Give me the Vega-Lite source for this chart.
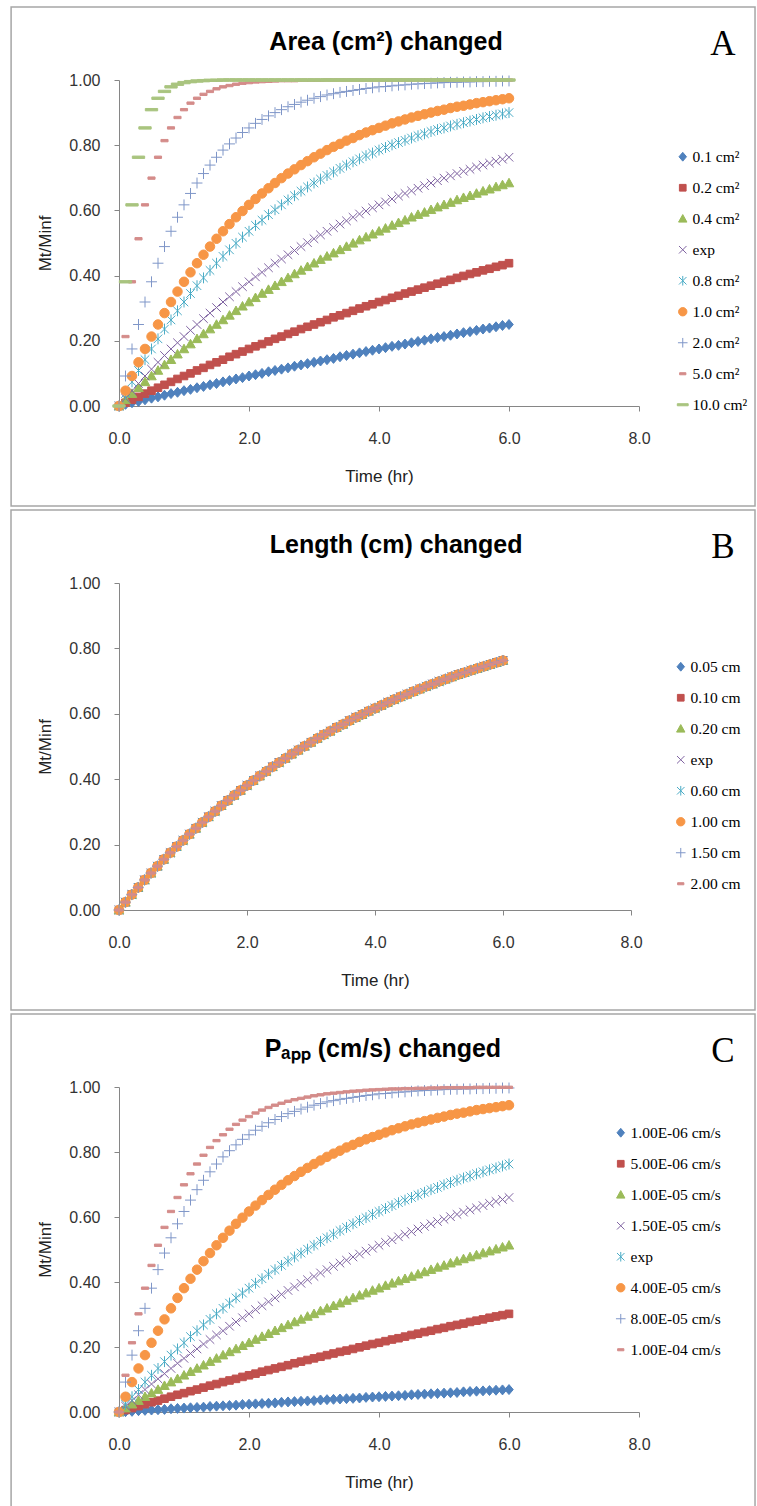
{
"$schema": "https://vega.github.io/schema/vega-lite/v6.json",
"padding": {"left": 10, "top": 6, "right": 0, "bottom": 0},
"background": "white",
"config": {
  "font": "Liberation Sans",
  "view": {"stroke": null},
  "axis": {"grid": false, "domainColor": "#868686", "tickColor": "#868686", "tickSize": 5, "labelFont": "Liberation Sans", "labelFontSize": 16, "labelColor": "#333333", "titleFont": "Liberation Sans", "titleFontSize": 17, "titleFontWeight": "normal", "titleColor": "#222222", "labelFlush": false, "labelOverlap": false},
  "legend": {"labelFont": "Liberation Serif", "labelFontSize": 15.5, "labelColor": "#000000", "symbolSize": 70, "symbolStrokeWidth": 1, "rowPadding": 14, "labelOffset": 2, "padding": 0}
},
"datasets": {
"A": [
{"s":"0.1 cm²","t":0,"y":0},{"s":"0.1 cm²","t":0.1,"y":0.005},{"s":"0.1 cm²","t":0.2,"y":0.010},{"s":"0.1 cm²","t":0.3,"y":0.014},{"s":"0.1 cm²","t":0.4,"y":0.019},{"s":"0.1 cm²","t":0.5,"y":0.024},{"s":"0.1 cm²","t":0.6,"y":0.028},{"s":"0.1 cm²","t":0.7,"y":0.033},{"s":"0.1 cm²","t":0.8,"y":0.038},{"s":"0.1 cm²","t":0.9,"y":0.042},{"s":"0.1 cm²","t":1,"y":0.047},
{"s":"0.1 cm²","t":1.1,"y":0.051},{"s":"0.1 cm²","t":1.2,"y":0.056},{"s":"0.1 cm²","t":1.3,"y":0.060},{"s":"0.1 cm²","t":1.4,"y":0.065},{"s":"0.1 cm²","t":1.5,"y":0.069},{"s":"0.1 cm²","t":1.6,"y":0.074},{"s":"0.1 cm²","t":1.7,"y":0.078},{"s":"0.1 cm²","t":1.8,"y":0.083},{"s":"0.1 cm²","t":1.9,"y":0.087},{"s":"0.1 cm²","t":2,"y":0.092},
{"s":"0.1 cm²","t":2.1,"y":0.096},{"s":"0.1 cm²","t":2.2,"y":0.100},{"s":"0.1 cm²","t":2.3,"y":0.105},{"s":"0.1 cm²","t":2.4,"y":0.109},{"s":"0.1 cm²","t":2.5,"y":0.113},{"s":"0.1 cm²","t":2.6,"y":0.117},{"s":"0.1 cm²","t":2.7,"y":0.122},{"s":"0.1 cm²","t":2.8,"y":0.126},{"s":"0.1 cm²","t":2.9,"y":0.130},{"s":"0.1 cm²","t":3,"y":0.134},
{"s":"0.1 cm²","t":3.1,"y":0.138},{"s":"0.1 cm²","t":3.2,"y":0.142},{"s":"0.1 cm²","t":3.3,"y":0.146},{"s":"0.1 cm²","t":3.4,"y":0.151},{"s":"0.1 cm²","t":3.5,"y":0.155},{"s":"0.1 cm²","t":3.6,"y":0.159},{"s":"0.1 cm²","t":3.7,"y":0.163},{"s":"0.1 cm²","t":3.8,"y":0.167},{"s":"0.1 cm²","t":3.9,"y":0.171},{"s":"0.1 cm²","t":4,"y":0.175},
{"s":"0.1 cm²","t":4.1,"y":0.179},{"s":"0.1 cm²","t":4.2,"y":0.183},{"s":"0.1 cm²","t":4.3,"y":0.186},{"s":"0.1 cm²","t":4.4,"y":0.190},{"s":"0.1 cm²","t":4.5,"y":0.194},{"s":"0.1 cm²","t":4.6,"y":0.198},{"s":"0.1 cm²","t":4.7,"y":0.202},{"s":"0.1 cm²","t":4.8,"y":0.206},{"s":"0.1 cm²","t":4.9,"y":0.210},{"s":"0.1 cm²","t":5,"y":0.213},
{"s":"0.1 cm²","t":5.1,"y":0.217},{"s":"0.1 cm²","t":5.2,"y":0.221},{"s":"0.1 cm²","t":5.3,"y":0.225},{"s":"0.1 cm²","t":5.4,"y":0.228},{"s":"0.1 cm²","t":5.5,"y":0.232},{"s":"0.1 cm²","t":5.6,"y":0.236},{"s":"0.1 cm²","t":5.7,"y":0.239},{"s":"0.1 cm²","t":5.8,"y":0.243},{"s":"0.1 cm²","t":5.9,"y":0.247},{"s":"0.1 cm²","t":6,"y":0.250},
{"s":"0.2 cm²","t":0,"y":0},{"s":"0.2 cm²","t":0.1,"y":0.010},{"s":"0.2 cm²","t":0.2,"y":0.019},{"s":"0.2 cm²","t":0.3,"y":0.028},{"s":"0.2 cm²","t":0.4,"y":0.038},{"s":"0.2 cm²","t":0.5,"y":0.047},{"s":"0.2 cm²","t":0.6,"y":0.056},{"s":"0.2 cm²","t":0.7,"y":0.065},{"s":"0.2 cm²","t":0.8,"y":0.074},{"s":"0.2 cm²","t":0.9,"y":0.083},{"s":"0.2 cm²","t":1,"y":0.092},
{"s":"0.2 cm²","t":1.1,"y":0.100},{"s":"0.2 cm²","t":1.2,"y":0.109},{"s":"0.2 cm²","t":1.3,"y":0.117},{"s":"0.2 cm²","t":1.4,"y":0.126},{"s":"0.2 cm²","t":1.5,"y":0.134},{"s":"0.2 cm²","t":1.6,"y":0.142},{"s":"0.2 cm²","t":1.7,"y":0.151},{"s":"0.2 cm²","t":1.8,"y":0.159},{"s":"0.2 cm²","t":1.9,"y":0.167},{"s":"0.2 cm²","t":2,"y":0.175},
{"s":"0.2 cm²","t":2.1,"y":0.183},{"s":"0.2 cm²","t":2.2,"y":0.190},{"s":"0.2 cm²","t":2.3,"y":0.198},{"s":"0.2 cm²","t":2.4,"y":0.206},{"s":"0.2 cm²","t":2.5,"y":0.213},{"s":"0.2 cm²","t":2.6,"y":0.221},{"s":"0.2 cm²","t":2.7,"y":0.228},{"s":"0.2 cm²","t":2.8,"y":0.236},{"s":"0.2 cm²","t":2.9,"y":0.243},{"s":"0.2 cm²","t":3,"y":0.250},
{"s":"0.2 cm²","t":3.1,"y":0.257},{"s":"0.2 cm²","t":3.2,"y":0.264},{"s":"0.2 cm²","t":3.3,"y":0.272},{"s":"0.2 cm²","t":3.4,"y":0.278},{"s":"0.2 cm²","t":3.5,"y":0.285},{"s":"0.2 cm²","t":3.6,"y":0.292},{"s":"0.2 cm²","t":3.7,"y":0.299},{"s":"0.2 cm²","t":3.8,"y":0.306},{"s":"0.2 cm²","t":3.9,"y":0.312},{"s":"0.2 cm²","t":4,"y":0.319},
{"s":"0.2 cm²","t":4.1,"y":0.325},{"s":"0.2 cm²","t":4.2,"y":0.332},{"s":"0.2 cm²","t":4.3,"y":0.338},{"s":"0.2 cm²","t":4.4,"y":0.345},{"s":"0.2 cm²","t":4.5,"y":0.351},{"s":"0.2 cm²","t":4.6,"y":0.357},{"s":"0.2 cm²","t":4.7,"y":0.363},{"s":"0.2 cm²","t":4.8,"y":0.369},{"s":"0.2 cm²","t":4.9,"y":0.375},{"s":"0.2 cm²","t":5,"y":0.381},
{"s":"0.2 cm²","t":5.1,"y":0.387},{"s":"0.2 cm²","t":5.2,"y":0.393},{"s":"0.2 cm²","t":5.3,"y":0.399},{"s":"0.2 cm²","t":5.4,"y":0.405},{"s":"0.2 cm²","t":5.5,"y":0.410},{"s":"0.2 cm²","t":5.6,"y":0.416},{"s":"0.2 cm²","t":5.7,"y":0.421},{"s":"0.2 cm²","t":5.8,"y":0.427},{"s":"0.2 cm²","t":5.9,"y":0.432},{"s":"0.2 cm²","t":6,"y":0.438},
{"s":"0.4 cm²","t":0,"y":0},{"s":"0.4 cm²","t":0.1,"y":0.019},{"s":"0.4 cm²","t":0.2,"y":0.038},{"s":"0.4 cm²","t":0.3,"y":0.056},{"s":"0.4 cm²","t":0.4,"y":0.074},{"s":"0.4 cm²","t":0.5,"y":0.092},{"s":"0.4 cm²","t":0.6,"y":0.109},{"s":"0.4 cm²","t":0.7,"y":0.126},{"s":"0.4 cm²","t":0.8,"y":0.142},{"s":"0.4 cm²","t":0.9,"y":0.159},{"s":"0.4 cm²","t":1,"y":0.175},
{"s":"0.4 cm²","t":1.1,"y":0.190},{"s":"0.4 cm²","t":1.2,"y":0.206},{"s":"0.4 cm²","t":1.3,"y":0.221},{"s":"0.4 cm²","t":1.4,"y":0.236},{"s":"0.4 cm²","t":1.5,"y":0.250},{"s":"0.4 cm²","t":1.6,"y":0.264},{"s":"0.4 cm²","t":1.7,"y":0.278},{"s":"0.4 cm²","t":1.8,"y":0.292},{"s":"0.4 cm²","t":1.9,"y":0.306},{"s":"0.4 cm²","t":2,"y":0.319},
{"s":"0.4 cm²","t":2.1,"y":0.332},{"s":"0.4 cm²","t":2.2,"y":0.345},{"s":"0.4 cm²","t":2.3,"y":0.357},{"s":"0.4 cm²","t":2.4,"y":0.369},{"s":"0.4 cm²","t":2.5,"y":0.381},{"s":"0.4 cm²","t":2.6,"y":0.393},{"s":"0.4 cm²","t":2.7,"y":0.405},{"s":"0.4 cm²","t":2.8,"y":0.416},{"s":"0.4 cm²","t":2.9,"y":0.427},{"s":"0.4 cm²","t":3,"y":0.438},
{"s":"0.4 cm²","t":3.1,"y":0.449},{"s":"0.4 cm²","t":3.2,"y":0.459},{"s":"0.4 cm²","t":3.3,"y":0.469},{"s":"0.4 cm²","t":3.4,"y":0.479},{"s":"0.4 cm²","t":3.5,"y":0.489},{"s":"0.4 cm²","t":3.6,"y":0.499},{"s":"0.4 cm²","t":3.7,"y":0.509},{"s":"0.4 cm²","t":3.8,"y":0.518},{"s":"0.4 cm²","t":3.9,"y":0.527},{"s":"0.4 cm²","t":4,"y":0.536},
{"s":"0.4 cm²","t":4.1,"y":0.545},{"s":"0.4 cm²","t":4.2,"y":0.554},{"s":"0.4 cm²","t":4.3,"y":0.562},{"s":"0.4 cm²","t":4.4,"y":0.570},{"s":"0.4 cm²","t":4.5,"y":0.579},{"s":"0.4 cm²","t":4.6,"y":0.587},{"s":"0.4 cm²","t":4.7,"y":0.594},{"s":"0.4 cm²","t":4.8,"y":0.602},{"s":"0.4 cm²","t":4.9,"y":0.610},{"s":"0.4 cm²","t":5,"y":0.617},
{"s":"0.4 cm²","t":5.1,"y":0.624},{"s":"0.4 cm²","t":5.2,"y":0.632},{"s":"0.4 cm²","t":5.3,"y":0.639},{"s":"0.4 cm²","t":5.4,"y":0.645},{"s":"0.4 cm²","t":5.5,"y":0.652},{"s":"0.4 cm²","t":5.6,"y":0.659},{"s":"0.4 cm²","t":5.7,"y":0.665},{"s":"0.4 cm²","t":5.8,"y":0.672},{"s":"0.4 cm²","t":5.9,"y":0.678},{"s":"0.4 cm²","t":6,"y":0.684},
{"s":"exp","t":0,"y":0},{"s":"exp","t":0.1,"y":0.024},{"s":"exp","t":0.2,"y":0.047},{"s":"exp","t":0.3,"y":0.069},{"s":"exp","t":0.4,"y":0.092},{"s":"exp","t":0.5,"y":0.113},{"s":"exp","t":0.6,"y":0.134},{"s":"exp","t":0.7,"y":0.155},{"s":"exp","t":0.8,"y":0.175},{"s":"exp","t":0.9,"y":0.194},{"s":"exp","t":1,"y":0.213},
{"s":"exp","t":1.1,"y":0.232},{"s":"exp","t":1.2,"y":0.250},{"s":"exp","t":1.3,"y":0.268},{"s":"exp","t":1.4,"y":0.285},{"s":"exp","t":1.5,"y":0.302},{"s":"exp","t":1.6,"y":0.319},{"s":"exp","t":1.7,"y":0.335},{"s":"exp","t":1.8,"y":0.351},{"s":"exp","t":1.9,"y":0.366},{"s":"exp","t":2,"y":0.381},
{"s":"exp","t":2.1,"y":0.396},{"s":"exp","t":2.2,"y":0.410},{"s":"exp","t":2.3,"y":0.424},{"s":"exp","t":2.4,"y":0.438},{"s":"exp","t":2.5,"y":0.451},{"s":"exp","t":2.6,"y":0.464},{"s":"exp","t":2.7,"y":0.477},{"s":"exp","t":2.8,"y":0.489},{"s":"exp","t":2.9,"y":0.501},{"s":"exp","t":3,"y":0.513},
{"s":"exp","t":3.1,"y":0.525},{"s":"exp","t":3.2,"y":0.536},{"s":"exp","t":3.3,"y":0.547},{"s":"exp","t":3.4,"y":0.558},{"s":"exp","t":3.5,"y":0.568},{"s":"exp","t":3.6,"y":0.579},{"s":"exp","t":3.7,"y":0.589},{"s":"exp","t":3.8,"y":0.598},{"s":"exp","t":3.9,"y":0.608},{"s":"exp","t":4,"y":0.617},
{"s":"exp","t":4.1,"y":0.626},{"s":"exp","t":4.2,"y":0.635},{"s":"exp","t":4.3,"y":0.644},{"s":"exp","t":4.4,"y":0.652},{"s":"exp","t":4.5,"y":0.660},{"s":"exp","t":4.6,"y":0.668},{"s":"exp","t":4.7,"y":0.676},{"s":"exp","t":4.8,"y":0.684},{"s":"exp","t":4.9,"y":0.691},{"s":"exp","t":5,"y":0.699},
{"s":"exp","t":5.1,"y":0.706},{"s":"exp","t":5.2,"y":0.713},{"s":"exp","t":5.3,"y":0.720},{"s":"exp","t":5.4,"y":0.726},{"s":"exp","t":5.5,"y":0.733},{"s":"exp","t":5.6,"y":0.739},{"s":"exp","t":5.7,"y":0.745},{"s":"exp","t":5.8,"y":0.751},{"s":"exp","t":5.9,"y":0.757},{"s":"exp","t":6,"y":0.763},
{"s":"0.8 cm²","t":0,"y":0},{"s":"0.8 cm²","t":0.1,"y":0.038},{"s":"0.8 cm²","t":0.2,"y":0.074},{"s":"0.8 cm²","t":0.3,"y":0.109},{"s":"0.8 cm²","t":0.4,"y":0.142},{"s":"0.8 cm²","t":0.5,"y":0.175},{"s":"0.8 cm²","t":0.6,"y":0.206},{"s":"0.8 cm²","t":0.7,"y":0.236},{"s":"0.8 cm²","t":0.8,"y":0.264},{"s":"0.8 cm²","t":0.9,"y":0.292},{"s":"0.8 cm²","t":1,"y":0.319},
{"s":"0.8 cm²","t":1.1,"y":0.345},{"s":"0.8 cm²","t":1.2,"y":0.369},{"s":"0.8 cm²","t":1.3,"y":0.393},{"s":"0.8 cm²","t":1.4,"y":0.416},{"s":"0.8 cm²","t":1.5,"y":0.438},{"s":"0.8 cm²","t":1.6,"y":0.459},{"s":"0.8 cm²","t":1.7,"y":0.479},{"s":"0.8 cm²","t":1.8,"y":0.499},{"s":"0.8 cm²","t":1.9,"y":0.518},{"s":"0.8 cm²","t":2,"y":0.536},
{"s":"0.8 cm²","t":2.1,"y":0.554},{"s":"0.8 cm²","t":2.2,"y":0.570},{"s":"0.8 cm²","t":2.3,"y":0.587},{"s":"0.8 cm²","t":2.4,"y":0.602},{"s":"0.8 cm²","t":2.5,"y":0.617},{"s":"0.8 cm²","t":2.6,"y":0.632},{"s":"0.8 cm²","t":2.7,"y":0.645},{"s":"0.8 cm²","t":2.8,"y":0.659},{"s":"0.8 cm²","t":2.9,"y":0.672},{"s":"0.8 cm²","t":3,"y":0.684},
{"s":"0.8 cm²","t":3.1,"y":0.696},{"s":"0.8 cm²","t":3.2,"y":0.707},{"s":"0.8 cm²","t":3.3,"y":0.718},{"s":"0.8 cm²","t":3.4,"y":0.729},{"s":"0.8 cm²","t":3.5,"y":0.739},{"s":"0.8 cm²","t":3.6,"y":0.749},{"s":"0.8 cm²","t":3.7,"y":0.758},{"s":"0.8 cm²","t":3.8,"y":0.768},{"s":"0.8 cm²","t":3.9,"y":0.776},{"s":"0.8 cm²","t":4,"y":0.785},
{"s":"0.8 cm²","t":4.1,"y":0.793},{"s":"0.8 cm²","t":4.2,"y":0.801},{"s":"0.8 cm²","t":4.3,"y":0.808},{"s":"0.8 cm²","t":4.4,"y":0.815},{"s":"0.8 cm²","t":4.5,"y":0.822},{"s":"0.8 cm²","t":4.6,"y":0.829},{"s":"0.8 cm²","t":4.7,"y":0.835},{"s":"0.8 cm²","t":4.8,"y":0.842},{"s":"0.8 cm²","t":4.9,"y":0.848},{"s":"0.8 cm²","t":5,"y":0.853},
{"s":"0.8 cm²","t":5.1,"y":0.859},{"s":"0.8 cm²","t":5.2,"y":0.864},{"s":"0.8 cm²","t":5.3,"y":0.869},{"s":"0.8 cm²","t":5.4,"y":0.874},{"s":"0.8 cm²","t":5.5,"y":0.879},{"s":"0.8 cm²","t":5.6,"y":0.884},{"s":"0.8 cm²","t":5.7,"y":0.888},{"s":"0.8 cm²","t":5.8,"y":0.892},{"s":"0.8 cm²","t":5.9,"y":0.896},{"s":"0.8 cm²","t":6,"y":0.900},
{"s":"1.0 cm²","t":0,"y":0},{"s":"1.0 cm²","t":0.1,"y":0.047},{"s":"1.0 cm²","t":0.2,"y":0.092},{"s":"1.0 cm²","t":0.3,"y":0.134},{"s":"1.0 cm²","t":0.4,"y":0.175},{"s":"1.0 cm²","t":0.5,"y":0.213},{"s":"1.0 cm²","t":0.6,"y":0.250},{"s":"1.0 cm²","t":0.7,"y":0.285},{"s":"1.0 cm²","t":0.8,"y":0.319},{"s":"1.0 cm²","t":0.9,"y":0.351},{"s":"1.0 cm²","t":1,"y":0.381},
{"s":"1.0 cm²","t":1.1,"y":0.410},{"s":"1.0 cm²","t":1.2,"y":0.438},{"s":"1.0 cm²","t":1.3,"y":0.464},{"s":"1.0 cm²","t":1.4,"y":0.489},{"s":"1.0 cm²","t":1.5,"y":0.513},{"s":"1.0 cm²","t":1.6,"y":0.536},{"s":"1.0 cm²","t":1.7,"y":0.558},{"s":"1.0 cm²","t":1.8,"y":0.579},{"s":"1.0 cm²","t":1.9,"y":0.598},{"s":"1.0 cm²","t":2,"y":0.617},
{"s":"1.0 cm²","t":2.1,"y":0.635},{"s":"1.0 cm²","t":2.2,"y":0.652},{"s":"1.0 cm²","t":2.3,"y":0.668},{"s":"1.0 cm²","t":2.4,"y":0.684},{"s":"1.0 cm²","t":2.5,"y":0.699},{"s":"1.0 cm²","t":2.6,"y":0.713},{"s":"1.0 cm²","t":2.7,"y":0.726},{"s":"1.0 cm²","t":2.8,"y":0.739},{"s":"1.0 cm²","t":2.9,"y":0.751},{"s":"1.0 cm²","t":3,"y":0.763},
{"s":"1.0 cm²","t":3.1,"y":0.774},{"s":"1.0 cm²","t":3.2,"y":0.785},{"s":"1.0 cm²","t":3.3,"y":0.795},{"s":"1.0 cm²","t":3.4,"y":0.804},{"s":"1.0 cm²","t":3.5,"y":0.814},{"s":"1.0 cm²","t":3.6,"y":0.822},{"s":"1.0 cm²","t":3.7,"y":0.831},{"s":"1.0 cm²","t":3.8,"y":0.839},{"s":"1.0 cm²","t":3.9,"y":0.846},{"s":"1.0 cm²","t":4,"y":0.853},
{"s":"1.0 cm²","t":4.1,"y":0.860},{"s":"1.0 cm²","t":4.2,"y":0.867},{"s":"1.0 cm²","t":4.3,"y":0.873},{"s":"1.0 cm²","t":4.4,"y":0.879},{"s":"1.0 cm²","t":4.5,"y":0.885},{"s":"1.0 cm²","t":4.6,"y":0.890},{"s":"1.0 cm²","t":4.7,"y":0.895},{"s":"1.0 cm²","t":4.8,"y":0.900},{"s":"1.0 cm²","t":4.9,"y":0.905},{"s":"1.0 cm²","t":5,"y":0.909},
{"s":"1.0 cm²","t":5.1,"y":0.914},{"s":"1.0 cm²","t":5.2,"y":0.918},{"s":"1.0 cm²","t":5.3,"y":0.921},{"s":"1.0 cm²","t":5.4,"y":0.925},{"s":"1.0 cm²","t":5.5,"y":0.929},{"s":"1.0 cm²","t":5.6,"y":0.932},{"s":"1.0 cm²","t":5.7,"y":0.935},{"s":"1.0 cm²","t":5.8,"y":0.938},{"s":"1.0 cm²","t":5.9,"y":0.941},{"s":"1.0 cm²","t":6,"y":0.944},
{"s":"2.0 cm²","t":0,"y":0},{"s":"2.0 cm²","t":0.1,"y":0.092},{"s":"2.0 cm²","t":0.2,"y":0.175},{"s":"2.0 cm²","t":0.3,"y":0.250},{"s":"2.0 cm²","t":0.4,"y":0.319},{"s":"2.0 cm²","t":0.5,"y":0.381},{"s":"2.0 cm²","t":0.6,"y":0.438},{"s":"2.0 cm²","t":0.7,"y":0.489},{"s":"2.0 cm²","t":0.8,"y":0.536},{"s":"2.0 cm²","t":0.9,"y":0.579},{"s":"2.0 cm²","t":1,"y":0.617},
{"s":"2.0 cm²","t":1.1,"y":0.652},{"s":"2.0 cm²","t":1.2,"y":0.684},{"s":"2.0 cm²","t":1.3,"y":0.713},{"s":"2.0 cm²","t":1.4,"y":0.739},{"s":"2.0 cm²","t":1.5,"y":0.763},{"s":"2.0 cm²","t":1.6,"y":0.785},{"s":"2.0 cm²","t":1.7,"y":0.804},{"s":"2.0 cm²","t":1.8,"y":0.822},{"s":"2.0 cm²","t":1.9,"y":0.839},{"s":"2.0 cm²","t":2,"y":0.853},
{"s":"2.0 cm²","t":2.1,"y":0.867},{"s":"2.0 cm²","t":2.2,"y":0.879},{"s":"2.0 cm²","t":2.3,"y":0.890},{"s":"2.0 cm²","t":2.4,"y":0.900},{"s":"2.0 cm²","t":2.5,"y":0.909},{"s":"2.0 cm²","t":2.6,"y":0.918},{"s":"2.0 cm²","t":2.7,"y":0.925},{"s":"2.0 cm²","t":2.8,"y":0.932},{"s":"2.0 cm²","t":2.9,"y":0.938},{"s":"2.0 cm²","t":3,"y":0.944},
{"s":"2.0 cm²","t":3.1,"y":0.949},{"s":"2.0 cm²","t":3.2,"y":0.954},{"s":"2.0 cm²","t":3.3,"y":0.958},{"s":"2.0 cm²","t":3.4,"y":0.962},{"s":"2.0 cm²","t":3.5,"y":0.965},{"s":"2.0 cm²","t":3.6,"y":0.968},{"s":"2.0 cm²","t":3.7,"y":0.971},{"s":"2.0 cm²","t":3.8,"y":0.974},{"s":"2.0 cm²","t":3.9,"y":0.976},{"s":"2.0 cm²","t":4,"y":0.979},
{"s":"2.0 cm²","t":4.1,"y":0.980},{"s":"2.0 cm²","t":4.2,"y":0.982},{"s":"2.0 cm²","t":4.3,"y":0.984},{"s":"2.0 cm²","t":4.4,"y":0.985},{"s":"2.0 cm²","t":4.5,"y":0.987},{"s":"2.0 cm²","t":4.6,"y":0.988},{"s":"2.0 cm²","t":4.7,"y":0.989},{"s":"2.0 cm²","t":4.8,"y":0.990},{"s":"2.0 cm²","t":4.9,"y":0.991},{"s":"2.0 cm²","t":5,"y":0.992},
{"s":"2.0 cm²","t":5.1,"y":0.993},{"s":"2.0 cm²","t":5.2,"y":0.993},{"s":"2.0 cm²","t":5.3,"y":0.994},{"s":"2.0 cm²","t":5.4,"y":0.994},{"s":"2.0 cm²","t":5.5,"y":0.995},{"s":"2.0 cm²","t":5.6,"y":0.995},{"s":"2.0 cm²","t":5.7,"y":0.996},{"s":"2.0 cm²","t":5.8,"y":0.996},{"s":"2.0 cm²","t":5.9,"y":0.997},{"s":"2.0 cm²","t":6,"y":0.997},
{"s":"5.0 cm²","t":0,"y":0},{"s":"5.0 cm²","t":0.1,"y":0.213},{"s":"5.0 cm²","t":0.2,"y":0.381},{"s":"5.0 cm²","t":0.3,"y":0.513},{"s":"5.0 cm²","t":0.4,"y":0.617},{"s":"5.0 cm²","t":0.5,"y":0.699},{"s":"5.0 cm²","t":0.6,"y":0.763},{"s":"5.0 cm²","t":0.7,"y":0.814},{"s":"5.0 cm²","t":0.8,"y":0.853},{"s":"5.0 cm²","t":0.9,"y":0.885},{"s":"5.0 cm²","t":1,"y":0.909},
{"s":"5.0 cm²","t":1.1,"y":0.929},{"s":"5.0 cm²","t":1.2,"y":0.944},{"s":"5.0 cm²","t":1.3,"y":0.956},{"s":"5.0 cm²","t":1.4,"y":0.965},{"s":"5.0 cm²","t":1.5,"y":0.973},{"s":"5.0 cm²","t":1.6,"y":0.979},{"s":"5.0 cm²","t":1.7,"y":0.983},{"s":"5.0 cm²","t":1.8,"y":0.987},{"s":"5.0 cm²","t":1.9,"y":0.990},{"s":"5.0 cm²","t":2,"y":0.992},
{"s":"5.0 cm²","t":2.1,"y":0.994},{"s":"5.0 cm²","t":2.2,"y":0.995},{"s":"5.0 cm²","t":2.3,"y":0.996},{"s":"5.0 cm²","t":2.4,"y":0.997},{"s":"5.0 cm²","t":2.5,"y":0.998},{"s":"5.0 cm²","t":2.6,"y":0.998},{"s":"5.0 cm²","t":2.7,"y":0.998},{"s":"5.0 cm²","t":2.8,"y":0.999},{"s":"5.0 cm²","t":2.9,"y":0.999},{"s":"5.0 cm²","t":3,"y":0.999},
{"s":"5.0 cm²","t":3.1,"y":0.999},{"s":"5.0 cm²","t":3.2,"y":1},{"s":"5.0 cm²","t":3.3,"y":1},{"s":"5.0 cm²","t":3.4,"y":1},{"s":"5.0 cm²","t":3.5,"y":1},{"s":"5.0 cm²","t":3.6,"y":1},{"s":"5.0 cm²","t":3.7,"y":1},{"s":"5.0 cm²","t":3.8,"y":1},{"s":"5.0 cm²","t":3.9,"y":1},{"s":"5.0 cm²","t":4,"y":1},
{"s":"5.0 cm²","t":4.1,"y":1},{"s":"5.0 cm²","t":4.2,"y":1},{"s":"5.0 cm²","t":4.3,"y":1},{"s":"5.0 cm²","t":4.4,"y":1},{"s":"5.0 cm²","t":4.5,"y":1},{"s":"5.0 cm²","t":4.6,"y":1},{"s":"5.0 cm²","t":4.7,"y":1},{"s":"5.0 cm²","t":4.8,"y":1},{"s":"5.0 cm²","t":4.9,"y":1},{"s":"5.0 cm²","t":5,"y":1},
{"s":"5.0 cm²","t":5.1,"y":1},{"s":"5.0 cm²","t":5.2,"y":1},{"s":"5.0 cm²","t":5.3,"y":1},{"s":"5.0 cm²","t":5.4,"y":1},{"s":"5.0 cm²","t":5.5,"y":1},{"s":"5.0 cm²","t":5.6,"y":1},{"s":"5.0 cm²","t":5.7,"y":1},{"s":"5.0 cm²","t":5.8,"y":1},{"s":"5.0 cm²","t":5.9,"y":1},{"s":"5.0 cm²","t":6,"y":1},
{"s":"10.0 cm²","t":0,"y":0},{"s":"10.0 cm²","t":0.1,"y":0.381},{"s":"10.0 cm²","t":0.2,"y":0.617},{"s":"10.0 cm²","t":0.3,"y":0.763},{"s":"10.0 cm²","t":0.4,"y":0.853},{"s":"10.0 cm²","t":0.5,"y":0.909},{"s":"10.0 cm²","t":0.6,"y":0.944},{"s":"10.0 cm²","t":0.7,"y":0.965},{"s":"10.0 cm²","t":0.8,"y":0.979},{"s":"10.0 cm²","t":0.9,"y":0.987},{"s":"10.0 cm²","t":1,"y":0.992},
{"s":"10.0 cm²","t":1.1,"y":0.995},{"s":"10.0 cm²","t":1.2,"y":0.997},{"s":"10.0 cm²","t":1.3,"y":0.998},{"s":"10.0 cm²","t":1.4,"y":0.999},{"s":"10.0 cm²","t":1.5,"y":0.999},{"s":"10.0 cm²","t":1.6,"y":1},{"s":"10.0 cm²","t":1.7,"y":1},{"s":"10.0 cm²","t":1.8,"y":1},{"s":"10.0 cm²","t":1.9,"y":1},{"s":"10.0 cm²","t":2,"y":1},
{"s":"10.0 cm²","t":2.1,"y":1},{"s":"10.0 cm²","t":2.2,"y":1},{"s":"10.0 cm²","t":2.3,"y":1},{"s":"10.0 cm²","t":2.4,"y":1},{"s":"10.0 cm²","t":2.5,"y":1},{"s":"10.0 cm²","t":2.6,"y":1},{"s":"10.0 cm²","t":2.7,"y":1},{"s":"10.0 cm²","t":2.8,"y":1},{"s":"10.0 cm²","t":2.9,"y":1},{"s":"10.0 cm²","t":3,"y":1},
{"s":"10.0 cm²","t":3.1,"y":1},{"s":"10.0 cm²","t":3.2,"y":1},{"s":"10.0 cm²","t":3.3,"y":1},{"s":"10.0 cm²","t":3.4,"y":1},{"s":"10.0 cm²","t":3.5,"y":1},{"s":"10.0 cm²","t":3.6,"y":1},{"s":"10.0 cm²","t":3.7,"y":1},{"s":"10.0 cm²","t":3.8,"y":1},{"s":"10.0 cm²","t":3.9,"y":1},{"s":"10.0 cm²","t":4,"y":1},
{"s":"10.0 cm²","t":4.1,"y":1},{"s":"10.0 cm²","t":4.2,"y":1},{"s":"10.0 cm²","t":4.3,"y":1},{"s":"10.0 cm²","t":4.4,"y":1},{"s":"10.0 cm²","t":4.5,"y":1},{"s":"10.0 cm²","t":4.6,"y":1},{"s":"10.0 cm²","t":4.7,"y":1},{"s":"10.0 cm²","t":4.8,"y":1},{"s":"10.0 cm²","t":4.9,"y":1},{"s":"10.0 cm²","t":5,"y":1},
{"s":"10.0 cm²","t":5.1,"y":1},{"s":"10.0 cm²","t":5.2,"y":1},{"s":"10.0 cm²","t":5.3,"y":1},{"s":"10.0 cm²","t":5.4,"y":1},{"s":"10.0 cm²","t":5.5,"y":1},{"s":"10.0 cm²","t":5.6,"y":1},{"s":"10.0 cm²","t":5.7,"y":1},{"s":"10.0 cm²","t":5.8,"y":1},{"s":"10.0 cm²","t":5.9,"y":1},{"s":"10.0 cm²","t":6,"y":1}
],
"B": [
{"s":"0.05 cm","t":0,"y":0},{"s":"0.05 cm","t":0.1,"y":0.024},{"s":"0.05 cm","t":0.2,"y":0.047},{"s":"0.05 cm","t":0.3,"y":0.069},{"s":"0.05 cm","t":0.4,"y":0.092},{"s":"0.05 cm","t":0.5,"y":0.113},{"s":"0.05 cm","t":0.6,"y":0.134},{"s":"0.05 cm","t":0.7,"y":0.155},{"s":"0.05 cm","t":0.8,"y":0.175},{"s":"0.05 cm","t":0.9,"y":0.194},{"s":"0.05 cm","t":1,"y":0.213},
{"s":"0.05 cm","t":1.1,"y":0.232},{"s":"0.05 cm","t":1.2,"y":0.250},{"s":"0.05 cm","t":1.3,"y":0.268},{"s":"0.05 cm","t":1.4,"y":0.285},{"s":"0.05 cm","t":1.5,"y":0.302},{"s":"0.05 cm","t":1.6,"y":0.319},{"s":"0.05 cm","t":1.7,"y":0.335},{"s":"0.05 cm","t":1.8,"y":0.351},{"s":"0.05 cm","t":1.9,"y":0.366},{"s":"0.05 cm","t":2,"y":0.381},
{"s":"0.05 cm","t":2.1,"y":0.396},{"s":"0.05 cm","t":2.2,"y":0.410},{"s":"0.05 cm","t":2.3,"y":0.424},{"s":"0.05 cm","t":2.4,"y":0.438},{"s":"0.05 cm","t":2.5,"y":0.451},{"s":"0.05 cm","t":2.6,"y":0.464},{"s":"0.05 cm","t":2.7,"y":0.477},{"s":"0.05 cm","t":2.8,"y":0.489},{"s":"0.05 cm","t":2.9,"y":0.501},{"s":"0.05 cm","t":3,"y":0.513},
{"s":"0.05 cm","t":3.1,"y":0.525},{"s":"0.05 cm","t":3.2,"y":0.536},{"s":"0.05 cm","t":3.3,"y":0.547},{"s":"0.05 cm","t":3.4,"y":0.558},{"s":"0.05 cm","t":3.5,"y":0.568},{"s":"0.05 cm","t":3.6,"y":0.579},{"s":"0.05 cm","t":3.7,"y":0.589},{"s":"0.05 cm","t":3.8,"y":0.598},{"s":"0.05 cm","t":3.9,"y":0.608},{"s":"0.05 cm","t":4,"y":0.617},
{"s":"0.05 cm","t":4.1,"y":0.626},{"s":"0.05 cm","t":4.2,"y":0.635},{"s":"0.05 cm","t":4.3,"y":0.644},{"s":"0.05 cm","t":4.4,"y":0.652},{"s":"0.05 cm","t":4.5,"y":0.660},{"s":"0.05 cm","t":4.6,"y":0.668},{"s":"0.05 cm","t":4.7,"y":0.676},{"s":"0.05 cm","t":4.8,"y":0.684},{"s":"0.05 cm","t":4.9,"y":0.691},{"s":"0.05 cm","t":5,"y":0.699},
{"s":"0.05 cm","t":5.1,"y":0.706},{"s":"0.05 cm","t":5.2,"y":0.713},{"s":"0.05 cm","t":5.3,"y":0.720},{"s":"0.05 cm","t":5.4,"y":0.726},{"s":"0.05 cm","t":5.5,"y":0.733},{"s":"0.05 cm","t":5.6,"y":0.739},{"s":"0.05 cm","t":5.7,"y":0.745},{"s":"0.05 cm","t":5.8,"y":0.751},{"s":"0.05 cm","t":5.9,"y":0.757},{"s":"0.05 cm","t":6,"y":0.763},
{"s":"0.10 cm","t":0,"y":0},{"s":"0.10 cm","t":0.1,"y":0.024},{"s":"0.10 cm","t":0.2,"y":0.047},{"s":"0.10 cm","t":0.3,"y":0.069},{"s":"0.10 cm","t":0.4,"y":0.092},{"s":"0.10 cm","t":0.5,"y":0.113},{"s":"0.10 cm","t":0.6,"y":0.134},{"s":"0.10 cm","t":0.7,"y":0.155},{"s":"0.10 cm","t":0.8,"y":0.175},{"s":"0.10 cm","t":0.9,"y":0.194},{"s":"0.10 cm","t":1,"y":0.213},
{"s":"0.10 cm","t":1.1,"y":0.232},{"s":"0.10 cm","t":1.2,"y":0.250},{"s":"0.10 cm","t":1.3,"y":0.268},{"s":"0.10 cm","t":1.4,"y":0.285},{"s":"0.10 cm","t":1.5,"y":0.302},{"s":"0.10 cm","t":1.6,"y":0.319},{"s":"0.10 cm","t":1.7,"y":0.335},{"s":"0.10 cm","t":1.8,"y":0.351},{"s":"0.10 cm","t":1.9,"y":0.366},{"s":"0.10 cm","t":2,"y":0.381},
{"s":"0.10 cm","t":2.1,"y":0.396},{"s":"0.10 cm","t":2.2,"y":0.410},{"s":"0.10 cm","t":2.3,"y":0.424},{"s":"0.10 cm","t":2.4,"y":0.438},{"s":"0.10 cm","t":2.5,"y":0.451},{"s":"0.10 cm","t":2.6,"y":0.464},{"s":"0.10 cm","t":2.7,"y":0.477},{"s":"0.10 cm","t":2.8,"y":0.489},{"s":"0.10 cm","t":2.9,"y":0.501},{"s":"0.10 cm","t":3,"y":0.513},
{"s":"0.10 cm","t":3.1,"y":0.525},{"s":"0.10 cm","t":3.2,"y":0.536},{"s":"0.10 cm","t":3.3,"y":0.547},{"s":"0.10 cm","t":3.4,"y":0.558},{"s":"0.10 cm","t":3.5,"y":0.568},{"s":"0.10 cm","t":3.6,"y":0.579},{"s":"0.10 cm","t":3.7,"y":0.589},{"s":"0.10 cm","t":3.8,"y":0.598},{"s":"0.10 cm","t":3.9,"y":0.608},{"s":"0.10 cm","t":4,"y":0.617},
{"s":"0.10 cm","t":4.1,"y":0.626},{"s":"0.10 cm","t":4.2,"y":0.635},{"s":"0.10 cm","t":4.3,"y":0.644},{"s":"0.10 cm","t":4.4,"y":0.652},{"s":"0.10 cm","t":4.5,"y":0.660},{"s":"0.10 cm","t":4.6,"y":0.668},{"s":"0.10 cm","t":4.7,"y":0.676},{"s":"0.10 cm","t":4.8,"y":0.684},{"s":"0.10 cm","t":4.9,"y":0.691},{"s":"0.10 cm","t":5,"y":0.699},
{"s":"0.10 cm","t":5.1,"y":0.706},{"s":"0.10 cm","t":5.2,"y":0.713},{"s":"0.10 cm","t":5.3,"y":0.720},{"s":"0.10 cm","t":5.4,"y":0.726},{"s":"0.10 cm","t":5.5,"y":0.733},{"s":"0.10 cm","t":5.6,"y":0.739},{"s":"0.10 cm","t":5.7,"y":0.745},{"s":"0.10 cm","t":5.8,"y":0.751},{"s":"0.10 cm","t":5.9,"y":0.757},{"s":"0.10 cm","t":6,"y":0.763},
{"s":"0.20 cm","t":0,"y":0},{"s":"0.20 cm","t":0.1,"y":0.024},{"s":"0.20 cm","t":0.2,"y":0.047},{"s":"0.20 cm","t":0.3,"y":0.069},{"s":"0.20 cm","t":0.4,"y":0.092},{"s":"0.20 cm","t":0.5,"y":0.113},{"s":"0.20 cm","t":0.6,"y":0.134},{"s":"0.20 cm","t":0.7,"y":0.155},{"s":"0.20 cm","t":0.8,"y":0.175},{"s":"0.20 cm","t":0.9,"y":0.194},{"s":"0.20 cm","t":1,"y":0.213},
{"s":"0.20 cm","t":1.1,"y":0.232},{"s":"0.20 cm","t":1.2,"y":0.250},{"s":"0.20 cm","t":1.3,"y":0.268},{"s":"0.20 cm","t":1.4,"y":0.285},{"s":"0.20 cm","t":1.5,"y":0.302},{"s":"0.20 cm","t":1.6,"y":0.319},{"s":"0.20 cm","t":1.7,"y":0.335},{"s":"0.20 cm","t":1.8,"y":0.351},{"s":"0.20 cm","t":1.9,"y":0.366},{"s":"0.20 cm","t":2,"y":0.381},
{"s":"0.20 cm","t":2.1,"y":0.396},{"s":"0.20 cm","t":2.2,"y":0.410},{"s":"0.20 cm","t":2.3,"y":0.424},{"s":"0.20 cm","t":2.4,"y":0.438},{"s":"0.20 cm","t":2.5,"y":0.451},{"s":"0.20 cm","t":2.6,"y":0.464},{"s":"0.20 cm","t":2.7,"y":0.477},{"s":"0.20 cm","t":2.8,"y":0.489},{"s":"0.20 cm","t":2.9,"y":0.501},{"s":"0.20 cm","t":3,"y":0.513},
{"s":"0.20 cm","t":3.1,"y":0.525},{"s":"0.20 cm","t":3.2,"y":0.536},{"s":"0.20 cm","t":3.3,"y":0.547},{"s":"0.20 cm","t":3.4,"y":0.558},{"s":"0.20 cm","t":3.5,"y":0.568},{"s":"0.20 cm","t":3.6,"y":0.579},{"s":"0.20 cm","t":3.7,"y":0.589},{"s":"0.20 cm","t":3.8,"y":0.598},{"s":"0.20 cm","t":3.9,"y":0.608},{"s":"0.20 cm","t":4,"y":0.617},
{"s":"0.20 cm","t":4.1,"y":0.626},{"s":"0.20 cm","t":4.2,"y":0.635},{"s":"0.20 cm","t":4.3,"y":0.644},{"s":"0.20 cm","t":4.4,"y":0.652},{"s":"0.20 cm","t":4.5,"y":0.660},{"s":"0.20 cm","t":4.6,"y":0.668},{"s":"0.20 cm","t":4.7,"y":0.676},{"s":"0.20 cm","t":4.8,"y":0.684},{"s":"0.20 cm","t":4.9,"y":0.691},{"s":"0.20 cm","t":5,"y":0.699},
{"s":"0.20 cm","t":5.1,"y":0.706},{"s":"0.20 cm","t":5.2,"y":0.713},{"s":"0.20 cm","t":5.3,"y":0.720},{"s":"0.20 cm","t":5.4,"y":0.726},{"s":"0.20 cm","t":5.5,"y":0.733},{"s":"0.20 cm","t":5.6,"y":0.739},{"s":"0.20 cm","t":5.7,"y":0.745},{"s":"0.20 cm","t":5.8,"y":0.751},{"s":"0.20 cm","t":5.9,"y":0.757},{"s":"0.20 cm","t":6,"y":0.763},
{"s":"exp","t":0,"y":0},{"s":"exp","t":0.1,"y":0.024},{"s":"exp","t":0.2,"y":0.047},{"s":"exp","t":0.3,"y":0.069},{"s":"exp","t":0.4,"y":0.092},{"s":"exp","t":0.5,"y":0.113},{"s":"exp","t":0.6,"y":0.134},{"s":"exp","t":0.7,"y":0.155},{"s":"exp","t":0.8,"y":0.175},{"s":"exp","t":0.9,"y":0.194},{"s":"exp","t":1,"y":0.213},
{"s":"exp","t":1.1,"y":0.232},{"s":"exp","t":1.2,"y":0.250},{"s":"exp","t":1.3,"y":0.268},{"s":"exp","t":1.4,"y":0.285},{"s":"exp","t":1.5,"y":0.302},{"s":"exp","t":1.6,"y":0.319},{"s":"exp","t":1.7,"y":0.335},{"s":"exp","t":1.8,"y":0.351},{"s":"exp","t":1.9,"y":0.366},{"s":"exp","t":2,"y":0.381},
{"s":"exp","t":2.1,"y":0.396},{"s":"exp","t":2.2,"y":0.410},{"s":"exp","t":2.3,"y":0.424},{"s":"exp","t":2.4,"y":0.438},{"s":"exp","t":2.5,"y":0.451},{"s":"exp","t":2.6,"y":0.464},{"s":"exp","t":2.7,"y":0.477},{"s":"exp","t":2.8,"y":0.489},{"s":"exp","t":2.9,"y":0.501},{"s":"exp","t":3,"y":0.513},
{"s":"exp","t":3.1,"y":0.525},{"s":"exp","t":3.2,"y":0.536},{"s":"exp","t":3.3,"y":0.547},{"s":"exp","t":3.4,"y":0.558},{"s":"exp","t":3.5,"y":0.568},{"s":"exp","t":3.6,"y":0.579},{"s":"exp","t":3.7,"y":0.589},{"s":"exp","t":3.8,"y":0.598},{"s":"exp","t":3.9,"y":0.608},{"s":"exp","t":4,"y":0.617},
{"s":"exp","t":4.1,"y":0.626},{"s":"exp","t":4.2,"y":0.635},{"s":"exp","t":4.3,"y":0.644},{"s":"exp","t":4.4,"y":0.652},{"s":"exp","t":4.5,"y":0.660},{"s":"exp","t":4.6,"y":0.668},{"s":"exp","t":4.7,"y":0.676},{"s":"exp","t":4.8,"y":0.684},{"s":"exp","t":4.9,"y":0.691},{"s":"exp","t":5,"y":0.699},
{"s":"exp","t":5.1,"y":0.706},{"s":"exp","t":5.2,"y":0.713},{"s":"exp","t":5.3,"y":0.720},{"s":"exp","t":5.4,"y":0.726},{"s":"exp","t":5.5,"y":0.733},{"s":"exp","t":5.6,"y":0.739},{"s":"exp","t":5.7,"y":0.745},{"s":"exp","t":5.8,"y":0.751},{"s":"exp","t":5.9,"y":0.757},{"s":"exp","t":6,"y":0.763},
{"s":"0.60 cm","t":0,"y":0},{"s":"0.60 cm","t":0.1,"y":0.024},{"s":"0.60 cm","t":0.2,"y":0.047},{"s":"0.60 cm","t":0.3,"y":0.069},{"s":"0.60 cm","t":0.4,"y":0.092},{"s":"0.60 cm","t":0.5,"y":0.113},{"s":"0.60 cm","t":0.6,"y":0.134},{"s":"0.60 cm","t":0.7,"y":0.155},{"s":"0.60 cm","t":0.8,"y":0.175},{"s":"0.60 cm","t":0.9,"y":0.194},{"s":"0.60 cm","t":1,"y":0.213},
{"s":"0.60 cm","t":1.1,"y":0.232},{"s":"0.60 cm","t":1.2,"y":0.250},{"s":"0.60 cm","t":1.3,"y":0.268},{"s":"0.60 cm","t":1.4,"y":0.285},{"s":"0.60 cm","t":1.5,"y":0.302},{"s":"0.60 cm","t":1.6,"y":0.319},{"s":"0.60 cm","t":1.7,"y":0.335},{"s":"0.60 cm","t":1.8,"y":0.351},{"s":"0.60 cm","t":1.9,"y":0.366},{"s":"0.60 cm","t":2,"y":0.381},
{"s":"0.60 cm","t":2.1,"y":0.396},{"s":"0.60 cm","t":2.2,"y":0.410},{"s":"0.60 cm","t":2.3,"y":0.424},{"s":"0.60 cm","t":2.4,"y":0.438},{"s":"0.60 cm","t":2.5,"y":0.451},{"s":"0.60 cm","t":2.6,"y":0.464},{"s":"0.60 cm","t":2.7,"y":0.477},{"s":"0.60 cm","t":2.8,"y":0.489},{"s":"0.60 cm","t":2.9,"y":0.501},{"s":"0.60 cm","t":3,"y":0.513},
{"s":"0.60 cm","t":3.1,"y":0.525},{"s":"0.60 cm","t":3.2,"y":0.536},{"s":"0.60 cm","t":3.3,"y":0.547},{"s":"0.60 cm","t":3.4,"y":0.558},{"s":"0.60 cm","t":3.5,"y":0.568},{"s":"0.60 cm","t":3.6,"y":0.579},{"s":"0.60 cm","t":3.7,"y":0.589},{"s":"0.60 cm","t":3.8,"y":0.598},{"s":"0.60 cm","t":3.9,"y":0.608},{"s":"0.60 cm","t":4,"y":0.617},
{"s":"0.60 cm","t":4.1,"y":0.626},{"s":"0.60 cm","t":4.2,"y":0.635},{"s":"0.60 cm","t":4.3,"y":0.644},{"s":"0.60 cm","t":4.4,"y":0.652},{"s":"0.60 cm","t":4.5,"y":0.660},{"s":"0.60 cm","t":4.6,"y":0.668},{"s":"0.60 cm","t":4.7,"y":0.676},{"s":"0.60 cm","t":4.8,"y":0.684},{"s":"0.60 cm","t":4.9,"y":0.691},{"s":"0.60 cm","t":5,"y":0.699},
{"s":"0.60 cm","t":5.1,"y":0.706},{"s":"0.60 cm","t":5.2,"y":0.713},{"s":"0.60 cm","t":5.3,"y":0.720},{"s":"0.60 cm","t":5.4,"y":0.726},{"s":"0.60 cm","t":5.5,"y":0.733},{"s":"0.60 cm","t":5.6,"y":0.739},{"s":"0.60 cm","t":5.7,"y":0.745},{"s":"0.60 cm","t":5.8,"y":0.751},{"s":"0.60 cm","t":5.9,"y":0.757},{"s":"0.60 cm","t":6,"y":0.763},
{"s":"1.00 cm","t":0,"y":0},{"s":"1.00 cm","t":0.1,"y":0.024},{"s":"1.00 cm","t":0.2,"y":0.047},{"s":"1.00 cm","t":0.3,"y":0.069},{"s":"1.00 cm","t":0.4,"y":0.092},{"s":"1.00 cm","t":0.5,"y":0.113},{"s":"1.00 cm","t":0.6,"y":0.134},{"s":"1.00 cm","t":0.7,"y":0.155},{"s":"1.00 cm","t":0.8,"y":0.175},{"s":"1.00 cm","t":0.9,"y":0.194},{"s":"1.00 cm","t":1,"y":0.213},
{"s":"1.00 cm","t":1.1,"y":0.232},{"s":"1.00 cm","t":1.2,"y":0.250},{"s":"1.00 cm","t":1.3,"y":0.268},{"s":"1.00 cm","t":1.4,"y":0.285},{"s":"1.00 cm","t":1.5,"y":0.302},{"s":"1.00 cm","t":1.6,"y":0.319},{"s":"1.00 cm","t":1.7,"y":0.335},{"s":"1.00 cm","t":1.8,"y":0.351},{"s":"1.00 cm","t":1.9,"y":0.366},{"s":"1.00 cm","t":2,"y":0.381},
{"s":"1.00 cm","t":2.1,"y":0.396},{"s":"1.00 cm","t":2.2,"y":0.410},{"s":"1.00 cm","t":2.3,"y":0.424},{"s":"1.00 cm","t":2.4,"y":0.438},{"s":"1.00 cm","t":2.5,"y":0.451},{"s":"1.00 cm","t":2.6,"y":0.464},{"s":"1.00 cm","t":2.7,"y":0.477},{"s":"1.00 cm","t":2.8,"y":0.489},{"s":"1.00 cm","t":2.9,"y":0.501},{"s":"1.00 cm","t":3,"y":0.513},
{"s":"1.00 cm","t":3.1,"y":0.525},{"s":"1.00 cm","t":3.2,"y":0.536},{"s":"1.00 cm","t":3.3,"y":0.547},{"s":"1.00 cm","t":3.4,"y":0.558},{"s":"1.00 cm","t":3.5,"y":0.568},{"s":"1.00 cm","t":3.6,"y":0.579},{"s":"1.00 cm","t":3.7,"y":0.589},{"s":"1.00 cm","t":3.8,"y":0.598},{"s":"1.00 cm","t":3.9,"y":0.608},{"s":"1.00 cm","t":4,"y":0.617},
{"s":"1.00 cm","t":4.1,"y":0.626},{"s":"1.00 cm","t":4.2,"y":0.635},{"s":"1.00 cm","t":4.3,"y":0.644},{"s":"1.00 cm","t":4.4,"y":0.652},{"s":"1.00 cm","t":4.5,"y":0.660},{"s":"1.00 cm","t":4.6,"y":0.668},{"s":"1.00 cm","t":4.7,"y":0.676},{"s":"1.00 cm","t":4.8,"y":0.684},{"s":"1.00 cm","t":4.9,"y":0.691},{"s":"1.00 cm","t":5,"y":0.699},
{"s":"1.00 cm","t":5.1,"y":0.706},{"s":"1.00 cm","t":5.2,"y":0.713},{"s":"1.00 cm","t":5.3,"y":0.720},{"s":"1.00 cm","t":5.4,"y":0.726},{"s":"1.00 cm","t":5.5,"y":0.733},{"s":"1.00 cm","t":5.6,"y":0.739},{"s":"1.00 cm","t":5.7,"y":0.745},{"s":"1.00 cm","t":5.8,"y":0.751},{"s":"1.00 cm","t":5.9,"y":0.757},{"s":"1.00 cm","t":6,"y":0.763},
{"s":"1.50 cm","t":0,"y":0},{"s":"1.50 cm","t":0.1,"y":0.024},{"s":"1.50 cm","t":0.2,"y":0.047},{"s":"1.50 cm","t":0.3,"y":0.069},{"s":"1.50 cm","t":0.4,"y":0.092},{"s":"1.50 cm","t":0.5,"y":0.113},{"s":"1.50 cm","t":0.6,"y":0.134},{"s":"1.50 cm","t":0.7,"y":0.155},{"s":"1.50 cm","t":0.8,"y":0.175},{"s":"1.50 cm","t":0.9,"y":0.194},{"s":"1.50 cm","t":1,"y":0.213},
{"s":"1.50 cm","t":1.1,"y":0.232},{"s":"1.50 cm","t":1.2,"y":0.250},{"s":"1.50 cm","t":1.3,"y":0.268},{"s":"1.50 cm","t":1.4,"y":0.285},{"s":"1.50 cm","t":1.5,"y":0.302},{"s":"1.50 cm","t":1.6,"y":0.319},{"s":"1.50 cm","t":1.7,"y":0.335},{"s":"1.50 cm","t":1.8,"y":0.351},{"s":"1.50 cm","t":1.9,"y":0.366},{"s":"1.50 cm","t":2,"y":0.381},
{"s":"1.50 cm","t":2.1,"y":0.396},{"s":"1.50 cm","t":2.2,"y":0.410},{"s":"1.50 cm","t":2.3,"y":0.424},{"s":"1.50 cm","t":2.4,"y":0.438},{"s":"1.50 cm","t":2.5,"y":0.451},{"s":"1.50 cm","t":2.6,"y":0.464},{"s":"1.50 cm","t":2.7,"y":0.477},{"s":"1.50 cm","t":2.8,"y":0.489},{"s":"1.50 cm","t":2.9,"y":0.501},{"s":"1.50 cm","t":3,"y":0.513},
{"s":"1.50 cm","t":3.1,"y":0.525},{"s":"1.50 cm","t":3.2,"y":0.536},{"s":"1.50 cm","t":3.3,"y":0.547},{"s":"1.50 cm","t":3.4,"y":0.558},{"s":"1.50 cm","t":3.5,"y":0.568},{"s":"1.50 cm","t":3.6,"y":0.579},{"s":"1.50 cm","t":3.7,"y":0.589},{"s":"1.50 cm","t":3.8,"y":0.598},{"s":"1.50 cm","t":3.9,"y":0.608},{"s":"1.50 cm","t":4,"y":0.617},
{"s":"1.50 cm","t":4.1,"y":0.626},{"s":"1.50 cm","t":4.2,"y":0.635},{"s":"1.50 cm","t":4.3,"y":0.644},{"s":"1.50 cm","t":4.4,"y":0.652},{"s":"1.50 cm","t":4.5,"y":0.660},{"s":"1.50 cm","t":4.6,"y":0.668},{"s":"1.50 cm","t":4.7,"y":0.676},{"s":"1.50 cm","t":4.8,"y":0.684},{"s":"1.50 cm","t":4.9,"y":0.691},{"s":"1.50 cm","t":5,"y":0.699},
{"s":"1.50 cm","t":5.1,"y":0.706},{"s":"1.50 cm","t":5.2,"y":0.713},{"s":"1.50 cm","t":5.3,"y":0.720},{"s":"1.50 cm","t":5.4,"y":0.726},{"s":"1.50 cm","t":5.5,"y":0.733},{"s":"1.50 cm","t":5.6,"y":0.739},{"s":"1.50 cm","t":5.7,"y":0.745},{"s":"1.50 cm","t":5.8,"y":0.751},{"s":"1.50 cm","t":5.9,"y":0.757},{"s":"1.50 cm","t":6,"y":0.763},
{"s":"2.00 cm","t":0,"y":0},{"s":"2.00 cm","t":0.1,"y":0.024},{"s":"2.00 cm","t":0.2,"y":0.047},{"s":"2.00 cm","t":0.3,"y":0.069},{"s":"2.00 cm","t":0.4,"y":0.092},{"s":"2.00 cm","t":0.5,"y":0.113},{"s":"2.00 cm","t":0.6,"y":0.134},{"s":"2.00 cm","t":0.7,"y":0.155},{"s":"2.00 cm","t":0.8,"y":0.175},{"s":"2.00 cm","t":0.9,"y":0.194},{"s":"2.00 cm","t":1,"y":0.213},
{"s":"2.00 cm","t":1.1,"y":0.232},{"s":"2.00 cm","t":1.2,"y":0.250},{"s":"2.00 cm","t":1.3,"y":0.268},{"s":"2.00 cm","t":1.4,"y":0.285},{"s":"2.00 cm","t":1.5,"y":0.302},{"s":"2.00 cm","t":1.6,"y":0.319},{"s":"2.00 cm","t":1.7,"y":0.335},{"s":"2.00 cm","t":1.8,"y":0.351},{"s":"2.00 cm","t":1.9,"y":0.366},{"s":"2.00 cm","t":2,"y":0.381},
{"s":"2.00 cm","t":2.1,"y":0.396},{"s":"2.00 cm","t":2.2,"y":0.410},{"s":"2.00 cm","t":2.3,"y":0.424},{"s":"2.00 cm","t":2.4,"y":0.438},{"s":"2.00 cm","t":2.5,"y":0.451},{"s":"2.00 cm","t":2.6,"y":0.464},{"s":"2.00 cm","t":2.7,"y":0.477},{"s":"2.00 cm","t":2.8,"y":0.489},{"s":"2.00 cm","t":2.9,"y":0.501},{"s":"2.00 cm","t":3,"y":0.513},
{"s":"2.00 cm","t":3.1,"y":0.525},{"s":"2.00 cm","t":3.2,"y":0.536},{"s":"2.00 cm","t":3.3,"y":0.547},{"s":"2.00 cm","t":3.4,"y":0.558},{"s":"2.00 cm","t":3.5,"y":0.568},{"s":"2.00 cm","t":3.6,"y":0.579},{"s":"2.00 cm","t":3.7,"y":0.589},{"s":"2.00 cm","t":3.8,"y":0.598},{"s":"2.00 cm","t":3.9,"y":0.608},{"s":"2.00 cm","t":4,"y":0.617},
{"s":"2.00 cm","t":4.1,"y":0.626},{"s":"2.00 cm","t":4.2,"y":0.635},{"s":"2.00 cm","t":4.3,"y":0.644},{"s":"2.00 cm","t":4.4,"y":0.652},{"s":"2.00 cm","t":4.5,"y":0.660},{"s":"2.00 cm","t":4.6,"y":0.668},{"s":"2.00 cm","t":4.7,"y":0.676},{"s":"2.00 cm","t":4.8,"y":0.684},{"s":"2.00 cm","t":4.9,"y":0.691},{"s":"2.00 cm","t":5,"y":0.699},
{"s":"2.00 cm","t":5.1,"y":0.706},{"s":"2.00 cm","t":5.2,"y":0.713},{"s":"2.00 cm","t":5.3,"y":0.720},{"s":"2.00 cm","t":5.4,"y":0.726},{"s":"2.00 cm","t":5.5,"y":0.733},{"s":"2.00 cm","t":5.6,"y":0.739},{"s":"2.00 cm","t":5.7,"y":0.745},{"s":"2.00 cm","t":5.8,"y":0.751},{"s":"2.00 cm","t":5.9,"y":0.757},{"s":"2.00 cm","t":6,"y":0.763}
],
"C": [
{"s":"1.00E-06 cm/s","t":0,"y":0},{"s":"1.00E-06 cm/s","t":0.1,"y":0.001},{"s":"1.00E-06 cm/s","t":0.2,"y":0.002},{"s":"1.00E-06 cm/s","t":0.3,"y":0.004},{"s":"1.00E-06 cm/s","t":0.4,"y":0.005},{"s":"1.00E-06 cm/s","t":0.5,"y":0.006},{"s":"1.00E-06 cm/s","t":0.6,"y":0.007},{"s":"1.00E-06 cm/s","t":0.7,"y":0.008},{"s":"1.00E-06 cm/s","t":0.8,"y":0.010},{"s":"1.00E-06 cm/s","t":0.9,"y":0.011},{"s":"1.00E-06 cm/s","t":1,"y":0.012},
{"s":"1.00E-06 cm/s","t":1.1,"y":0.013},{"s":"1.00E-06 cm/s","t":1.2,"y":0.014},{"s":"1.00E-06 cm/s","t":1.3,"y":0.015},{"s":"1.00E-06 cm/s","t":1.4,"y":0.017},{"s":"1.00E-06 cm/s","t":1.5,"y":0.018},{"s":"1.00E-06 cm/s","t":1.6,"y":0.019},{"s":"1.00E-06 cm/s","t":1.7,"y":0.020},{"s":"1.00E-06 cm/s","t":1.8,"y":0.021},{"s":"1.00E-06 cm/s","t":1.9,"y":0.023},{"s":"1.00E-06 cm/s","t":2,"y":0.024},
{"s":"1.00E-06 cm/s","t":2.1,"y":0.025},{"s":"1.00E-06 cm/s","t":2.2,"y":0.026},{"s":"1.00E-06 cm/s","t":2.3,"y":0.027},{"s":"1.00E-06 cm/s","t":2.4,"y":0.028},{"s":"1.00E-06 cm/s","t":2.5,"y":0.030},{"s":"1.00E-06 cm/s","t":2.6,"y":0.031},{"s":"1.00E-06 cm/s","t":2.7,"y":0.032},{"s":"1.00E-06 cm/s","t":2.8,"y":0.033},{"s":"1.00E-06 cm/s","t":2.9,"y":0.034},{"s":"1.00E-06 cm/s","t":3,"y":0.035},
{"s":"1.00E-06 cm/s","t":3.1,"y":0.037},{"s":"1.00E-06 cm/s","t":3.2,"y":0.038},{"s":"1.00E-06 cm/s","t":3.3,"y":0.039},{"s":"1.00E-06 cm/s","t":3.4,"y":0.040},{"s":"1.00E-06 cm/s","t":3.5,"y":0.041},{"s":"1.00E-06 cm/s","t":3.6,"y":0.042},{"s":"1.00E-06 cm/s","t":3.7,"y":0.043},{"s":"1.00E-06 cm/s","t":3.8,"y":0.045},{"s":"1.00E-06 cm/s","t":3.9,"y":0.046},{"s":"1.00E-06 cm/s","t":4,"y":0.047},
{"s":"1.00E-06 cm/s","t":4.1,"y":0.048},{"s":"1.00E-06 cm/s","t":4.2,"y":0.049},{"s":"1.00E-06 cm/s","t":4.3,"y":0.050},{"s":"1.00E-06 cm/s","t":4.4,"y":0.051},{"s":"1.00E-06 cm/s","t":4.5,"y":0.053},{"s":"1.00E-06 cm/s","t":4.6,"y":0.054},{"s":"1.00E-06 cm/s","t":4.7,"y":0.055},{"s":"1.00E-06 cm/s","t":4.8,"y":0.056},{"s":"1.00E-06 cm/s","t":4.9,"y":0.057},{"s":"1.00E-06 cm/s","t":5,"y":0.058},
{"s":"1.00E-06 cm/s","t":5.1,"y":0.059},{"s":"1.00E-06 cm/s","t":5.2,"y":0.060},{"s":"1.00E-06 cm/s","t":5.3,"y":0.062},{"s":"1.00E-06 cm/s","t":5.4,"y":0.063},{"s":"1.00E-06 cm/s","t":5.5,"y":0.064},{"s":"1.00E-06 cm/s","t":5.6,"y":0.065},{"s":"1.00E-06 cm/s","t":5.7,"y":0.066},{"s":"1.00E-06 cm/s","t":5.8,"y":0.067},{"s":"1.00E-06 cm/s","t":5.9,"y":0.068},{"s":"1.00E-06 cm/s","t":6,"y":0.069},
{"s":"5.00E-06 cm/s","t":0,"y":0},{"s":"5.00E-06 cm/s","t":0.1,"y":0.006},{"s":"5.00E-06 cm/s","t":0.2,"y":0.012},{"s":"5.00E-06 cm/s","t":0.3,"y":0.018},{"s":"5.00E-06 cm/s","t":0.4,"y":0.024},{"s":"5.00E-06 cm/s","t":0.5,"y":0.030},{"s":"5.00E-06 cm/s","t":0.6,"y":0.035},{"s":"5.00E-06 cm/s","t":0.7,"y":0.041},{"s":"5.00E-06 cm/s","t":0.8,"y":0.047},{"s":"5.00E-06 cm/s","t":0.9,"y":0.053},{"s":"5.00E-06 cm/s","t":1,"y":0.058},
{"s":"5.00E-06 cm/s","t":1.1,"y":0.064},{"s":"5.00E-06 cm/s","t":1.2,"y":0.069},{"s":"5.00E-06 cm/s","t":1.3,"y":0.075},{"s":"5.00E-06 cm/s","t":1.4,"y":0.081},{"s":"5.00E-06 cm/s","t":1.5,"y":0.086},{"s":"5.00E-06 cm/s","t":1.6,"y":0.092},{"s":"5.00E-06 cm/s","t":1.7,"y":0.097},{"s":"5.00E-06 cm/s","t":1.8,"y":0.102},{"s":"5.00E-06 cm/s","t":1.9,"y":0.108},{"s":"5.00E-06 cm/s","t":2,"y":0.113},
{"s":"5.00E-06 cm/s","t":2.1,"y":0.118},{"s":"5.00E-06 cm/s","t":2.2,"y":0.124},{"s":"5.00E-06 cm/s","t":2.3,"y":0.129},{"s":"5.00E-06 cm/s","t":2.4,"y":0.134},{"s":"5.00E-06 cm/s","t":2.5,"y":0.139},{"s":"5.00E-06 cm/s","t":2.6,"y":0.144},{"s":"5.00E-06 cm/s","t":2.7,"y":0.150},{"s":"5.00E-06 cm/s","t":2.8,"y":0.155},{"s":"5.00E-06 cm/s","t":2.9,"y":0.160},{"s":"5.00E-06 cm/s","t":3,"y":0.165},
{"s":"5.00E-06 cm/s","t":3.1,"y":0.170},{"s":"5.00E-06 cm/s","t":3.2,"y":0.175},{"s":"5.00E-06 cm/s","t":3.3,"y":0.180},{"s":"5.00E-06 cm/s","t":3.4,"y":0.185},{"s":"5.00E-06 cm/s","t":3.5,"y":0.189},{"s":"5.00E-06 cm/s","t":3.6,"y":0.194},{"s":"5.00E-06 cm/s","t":3.7,"y":0.199},{"s":"5.00E-06 cm/s","t":3.8,"y":0.204},{"s":"5.00E-06 cm/s","t":3.9,"y":0.209},{"s":"5.00E-06 cm/s","t":4,"y":0.213},
{"s":"5.00E-06 cm/s","t":4.1,"y":0.218},{"s":"5.00E-06 cm/s","t":4.2,"y":0.223},{"s":"5.00E-06 cm/s","t":4.3,"y":0.227},{"s":"5.00E-06 cm/s","t":4.4,"y":0.232},{"s":"5.00E-06 cm/s","t":4.5,"y":0.237},{"s":"5.00E-06 cm/s","t":4.6,"y":0.241},{"s":"5.00E-06 cm/s","t":4.7,"y":0.246},{"s":"5.00E-06 cm/s","t":4.8,"y":0.250},{"s":"5.00E-06 cm/s","t":4.9,"y":0.255},{"s":"5.00E-06 cm/s","t":5,"y":0.259},
{"s":"5.00E-06 cm/s","t":5.1,"y":0.264},{"s":"5.00E-06 cm/s","t":5.2,"y":0.268},{"s":"5.00E-06 cm/s","t":5.3,"y":0.272},{"s":"5.00E-06 cm/s","t":5.4,"y":0.277},{"s":"5.00E-06 cm/s","t":5.5,"y":0.281},{"s":"5.00E-06 cm/s","t":5.6,"y":0.285},{"s":"5.00E-06 cm/s","t":5.7,"y":0.290},{"s":"5.00E-06 cm/s","t":5.8,"y":0.294},{"s":"5.00E-06 cm/s","t":5.9,"y":0.298},{"s":"5.00E-06 cm/s","t":6,"y":0.302},
{"s":"1.00E-05 cm/s","t":0,"y":0},{"s":"1.00E-05 cm/s","t":0.1,"y":0.012},{"s":"1.00E-05 cm/s","t":0.2,"y":0.024},{"s":"1.00E-05 cm/s","t":0.3,"y":0.035},{"s":"1.00E-05 cm/s","t":0.4,"y":0.047},{"s":"1.00E-05 cm/s","t":0.5,"y":0.058},{"s":"1.00E-05 cm/s","t":0.6,"y":0.069},{"s":"1.00E-05 cm/s","t":0.7,"y":0.081},{"s":"1.00E-05 cm/s","t":0.8,"y":0.092},{"s":"1.00E-05 cm/s","t":0.9,"y":0.102},{"s":"1.00E-05 cm/s","t":1,"y":0.113},
{"s":"1.00E-05 cm/s","t":1.1,"y":0.124},{"s":"1.00E-05 cm/s","t":1.2,"y":0.134},{"s":"1.00E-05 cm/s","t":1.3,"y":0.144},{"s":"1.00E-05 cm/s","t":1.4,"y":0.155},{"s":"1.00E-05 cm/s","t":1.5,"y":0.165},{"s":"1.00E-05 cm/s","t":1.6,"y":0.175},{"s":"1.00E-05 cm/s","t":1.7,"y":0.185},{"s":"1.00E-05 cm/s","t":1.8,"y":0.194},{"s":"1.00E-05 cm/s","t":1.9,"y":0.204},{"s":"1.00E-05 cm/s","t":2,"y":0.213},
{"s":"1.00E-05 cm/s","t":2.1,"y":0.223},{"s":"1.00E-05 cm/s","t":2.2,"y":0.232},{"s":"1.00E-05 cm/s","t":2.3,"y":0.241},{"s":"1.00E-05 cm/s","t":2.4,"y":0.250},{"s":"1.00E-05 cm/s","t":2.5,"y":0.259},{"s":"1.00E-05 cm/s","t":2.6,"y":0.268},{"s":"1.00E-05 cm/s","t":2.7,"y":0.277},{"s":"1.00E-05 cm/s","t":2.8,"y":0.285},{"s":"1.00E-05 cm/s","t":2.9,"y":0.294},{"s":"1.00E-05 cm/s","t":3,"y":0.302},
{"s":"1.00E-05 cm/s","t":3.1,"y":0.311},{"s":"1.00E-05 cm/s","t":3.2,"y":0.319},{"s":"1.00E-05 cm/s","t":3.3,"y":0.327},{"s":"1.00E-05 cm/s","t":3.4,"y":0.335},{"s":"1.00E-05 cm/s","t":3.5,"y":0.343},{"s":"1.00E-05 cm/s","t":3.6,"y":0.351},{"s":"1.00E-05 cm/s","t":3.7,"y":0.359},{"s":"1.00E-05 cm/s","t":3.8,"y":0.366},{"s":"1.00E-05 cm/s","t":3.9,"y":0.374},{"s":"1.00E-05 cm/s","t":4,"y":0.381},
{"s":"1.00E-05 cm/s","t":4.1,"y":0.389},{"s":"1.00E-05 cm/s","t":4.2,"y":0.396},{"s":"1.00E-05 cm/s","t":4.3,"y":0.403},{"s":"1.00E-05 cm/s","t":4.4,"y":0.410},{"s":"1.00E-05 cm/s","t":4.5,"y":0.417},{"s":"1.00E-05 cm/s","t":4.6,"y":0.424},{"s":"1.00E-05 cm/s","t":4.7,"y":0.431},{"s":"1.00E-05 cm/s","t":4.8,"y":0.438},{"s":"1.00E-05 cm/s","t":4.9,"y":0.445},{"s":"1.00E-05 cm/s","t":5,"y":0.451},
{"s":"1.00E-05 cm/s","t":5.1,"y":0.458},{"s":"1.00E-05 cm/s","t":5.2,"y":0.464},{"s":"1.00E-05 cm/s","t":5.3,"y":0.471},{"s":"1.00E-05 cm/s","t":5.4,"y":0.477},{"s":"1.00E-05 cm/s","t":5.5,"y":0.483},{"s":"1.00E-05 cm/s","t":5.6,"y":0.489},{"s":"1.00E-05 cm/s","t":5.7,"y":0.495},{"s":"1.00E-05 cm/s","t":5.8,"y":0.501},{"s":"1.00E-05 cm/s","t":5.9,"y":0.507},{"s":"1.00E-05 cm/s","t":6,"y":0.513},
{"s":"1.50E-05 cm/s","t":0,"y":0},{"s":"1.50E-05 cm/s","t":0.1,"y":0.018},{"s":"1.50E-05 cm/s","t":0.2,"y":0.035},{"s":"1.50E-05 cm/s","t":0.3,"y":0.053},{"s":"1.50E-05 cm/s","t":0.4,"y":0.069},{"s":"1.50E-05 cm/s","t":0.5,"y":0.086},{"s":"1.50E-05 cm/s","t":0.6,"y":0.102},{"s":"1.50E-05 cm/s","t":0.7,"y":0.118},{"s":"1.50E-05 cm/s","t":0.8,"y":0.134},{"s":"1.50E-05 cm/s","t":0.9,"y":0.150},{"s":"1.50E-05 cm/s","t":1,"y":0.165},
{"s":"1.50E-05 cm/s","t":1.1,"y":0.180},{"s":"1.50E-05 cm/s","t":1.2,"y":0.194},{"s":"1.50E-05 cm/s","t":1.3,"y":0.209},{"s":"1.50E-05 cm/s","t":1.4,"y":0.223},{"s":"1.50E-05 cm/s","t":1.5,"y":0.237},{"s":"1.50E-05 cm/s","t":1.6,"y":0.250},{"s":"1.50E-05 cm/s","t":1.7,"y":0.264},{"s":"1.50E-05 cm/s","t":1.8,"y":0.277},{"s":"1.50E-05 cm/s","t":1.9,"y":0.290},{"s":"1.50E-05 cm/s","t":2,"y":0.302},
{"s":"1.50E-05 cm/s","t":2.1,"y":0.315},{"s":"1.50E-05 cm/s","t":2.2,"y":0.327},{"s":"1.50E-05 cm/s","t":2.3,"y":0.339},{"s":"1.50E-05 cm/s","t":2.4,"y":0.351},{"s":"1.50E-05 cm/s","t":2.5,"y":0.362},{"s":"1.50E-05 cm/s","t":2.6,"y":0.374},{"s":"1.50E-05 cm/s","t":2.7,"y":0.385},{"s":"1.50E-05 cm/s","t":2.8,"y":0.396},{"s":"1.50E-05 cm/s","t":2.9,"y":0.407},{"s":"1.50E-05 cm/s","t":3,"y":0.417},
{"s":"1.50E-05 cm/s","t":3.1,"y":0.428},{"s":"1.50E-05 cm/s","t":3.2,"y":0.438},{"s":"1.50E-05 cm/s","t":3.3,"y":0.448},{"s":"1.50E-05 cm/s","t":3.4,"y":0.458},{"s":"1.50E-05 cm/s","t":3.5,"y":0.467},{"s":"1.50E-05 cm/s","t":3.6,"y":0.477},{"s":"1.50E-05 cm/s","t":3.7,"y":0.486},{"s":"1.50E-05 cm/s","t":3.8,"y":0.495},{"s":"1.50E-05 cm/s","t":3.9,"y":0.504},{"s":"1.50E-05 cm/s","t":4,"y":0.513},
{"s":"1.50E-05 cm/s","t":4.1,"y":0.522},{"s":"1.50E-05 cm/s","t":4.2,"y":0.530},{"s":"1.50E-05 cm/s","t":4.3,"y":0.539},{"s":"1.50E-05 cm/s","t":4.4,"y":0.547},{"s":"1.50E-05 cm/s","t":4.5,"y":0.555},{"s":"1.50E-05 cm/s","t":4.6,"y":0.563},{"s":"1.50E-05 cm/s","t":4.7,"y":0.571},{"s":"1.50E-05 cm/s","t":4.8,"y":0.579},{"s":"1.50E-05 cm/s","t":4.9,"y":0.586},{"s":"1.50E-05 cm/s","t":5,"y":0.593},
{"s":"1.50E-05 cm/s","t":5.1,"y":0.601},{"s":"1.50E-05 cm/s","t":5.2,"y":0.608},{"s":"1.50E-05 cm/s","t":5.3,"y":0.615},{"s":"1.50E-05 cm/s","t":5.4,"y":0.622},{"s":"1.50E-05 cm/s","t":5.5,"y":0.628},{"s":"1.50E-05 cm/s","t":5.6,"y":0.635},{"s":"1.50E-05 cm/s","t":5.7,"y":0.642},{"s":"1.50E-05 cm/s","t":5.8,"y":0.648},{"s":"1.50E-05 cm/s","t":5.9,"y":0.654},{"s":"1.50E-05 cm/s","t":6,"y":0.660},
{"s":"exp","t":0,"y":0},{"s":"exp","t":0.1,"y":0.024},{"s":"exp","t":0.2,"y":0.047},{"s":"exp","t":0.3,"y":0.069},{"s":"exp","t":0.4,"y":0.092},{"s":"exp","t":0.5,"y":0.113},{"s":"exp","t":0.6,"y":0.134},{"s":"exp","t":0.7,"y":0.155},{"s":"exp","t":0.8,"y":0.175},{"s":"exp","t":0.9,"y":0.194},{"s":"exp","t":1,"y":0.213},
{"s":"exp","t":1.1,"y":0.232},{"s":"exp","t":1.2,"y":0.250},{"s":"exp","t":1.3,"y":0.268},{"s":"exp","t":1.4,"y":0.285},{"s":"exp","t":1.5,"y":0.302},{"s":"exp","t":1.6,"y":0.319},{"s":"exp","t":1.7,"y":0.335},{"s":"exp","t":1.8,"y":0.351},{"s":"exp","t":1.9,"y":0.366},{"s":"exp","t":2,"y":0.381},
{"s":"exp","t":2.1,"y":0.396},{"s":"exp","t":2.2,"y":0.410},{"s":"exp","t":2.3,"y":0.424},{"s":"exp","t":2.4,"y":0.438},{"s":"exp","t":2.5,"y":0.451},{"s":"exp","t":2.6,"y":0.464},{"s":"exp","t":2.7,"y":0.477},{"s":"exp","t":2.8,"y":0.489},{"s":"exp","t":2.9,"y":0.501},{"s":"exp","t":3,"y":0.513},
{"s":"exp","t":3.1,"y":0.525},{"s":"exp","t":3.2,"y":0.536},{"s":"exp","t":3.3,"y":0.547},{"s":"exp","t":3.4,"y":0.558},{"s":"exp","t":3.5,"y":0.568},{"s":"exp","t":3.6,"y":0.579},{"s":"exp","t":3.7,"y":0.589},{"s":"exp","t":3.8,"y":0.598},{"s":"exp","t":3.9,"y":0.608},{"s":"exp","t":4,"y":0.617},
{"s":"exp","t":4.1,"y":0.626},{"s":"exp","t":4.2,"y":0.635},{"s":"exp","t":4.3,"y":0.644},{"s":"exp","t":4.4,"y":0.652},{"s":"exp","t":4.5,"y":0.660},{"s":"exp","t":4.6,"y":0.668},{"s":"exp","t":4.7,"y":0.676},{"s":"exp","t":4.8,"y":0.684},{"s":"exp","t":4.9,"y":0.691},{"s":"exp","t":5,"y":0.699},
{"s":"exp","t":5.1,"y":0.706},{"s":"exp","t":5.2,"y":0.713},{"s":"exp","t":5.3,"y":0.720},{"s":"exp","t":5.4,"y":0.726},{"s":"exp","t":5.5,"y":0.733},{"s":"exp","t":5.6,"y":0.739},{"s":"exp","t":5.7,"y":0.745},{"s":"exp","t":5.8,"y":0.751},{"s":"exp","t":5.9,"y":0.757},{"s":"exp","t":6,"y":0.763},
{"s":"4.00E-05 cm/s","t":0,"y":0},{"s":"4.00E-05 cm/s","t":0.1,"y":0.047},{"s":"4.00E-05 cm/s","t":0.2,"y":0.092},{"s":"4.00E-05 cm/s","t":0.3,"y":0.134},{"s":"4.00E-05 cm/s","t":0.4,"y":0.175},{"s":"4.00E-05 cm/s","t":0.5,"y":0.213},{"s":"4.00E-05 cm/s","t":0.6,"y":0.250},{"s":"4.00E-05 cm/s","t":0.7,"y":0.285},{"s":"4.00E-05 cm/s","t":0.8,"y":0.319},{"s":"4.00E-05 cm/s","t":0.9,"y":0.351},{"s":"4.00E-05 cm/s","t":1,"y":0.381},
{"s":"4.00E-05 cm/s","t":1.1,"y":0.410},{"s":"4.00E-05 cm/s","t":1.2,"y":0.438},{"s":"4.00E-05 cm/s","t":1.3,"y":0.464},{"s":"4.00E-05 cm/s","t":1.4,"y":0.489},{"s":"4.00E-05 cm/s","t":1.5,"y":0.513},{"s":"4.00E-05 cm/s","t":1.6,"y":0.536},{"s":"4.00E-05 cm/s","t":1.7,"y":0.558},{"s":"4.00E-05 cm/s","t":1.8,"y":0.579},{"s":"4.00E-05 cm/s","t":1.9,"y":0.598},{"s":"4.00E-05 cm/s","t":2,"y":0.617},
{"s":"4.00E-05 cm/s","t":2.1,"y":0.635},{"s":"4.00E-05 cm/s","t":2.2,"y":0.652},{"s":"4.00E-05 cm/s","t":2.3,"y":0.668},{"s":"4.00E-05 cm/s","t":2.4,"y":0.684},{"s":"4.00E-05 cm/s","t":2.5,"y":0.699},{"s":"4.00E-05 cm/s","t":2.6,"y":0.713},{"s":"4.00E-05 cm/s","t":2.7,"y":0.726},{"s":"4.00E-05 cm/s","t":2.8,"y":0.739},{"s":"4.00E-05 cm/s","t":2.9,"y":0.751},{"s":"4.00E-05 cm/s","t":3,"y":0.763},
{"s":"4.00E-05 cm/s","t":3.1,"y":0.774},{"s":"4.00E-05 cm/s","t":3.2,"y":0.785},{"s":"4.00E-05 cm/s","t":3.3,"y":0.795},{"s":"4.00E-05 cm/s","t":3.4,"y":0.804},{"s":"4.00E-05 cm/s","t":3.5,"y":0.814},{"s":"4.00E-05 cm/s","t":3.6,"y":0.822},{"s":"4.00E-05 cm/s","t":3.7,"y":0.831},{"s":"4.00E-05 cm/s","t":3.8,"y":0.839},{"s":"4.00E-05 cm/s","t":3.9,"y":0.846},{"s":"4.00E-05 cm/s","t":4,"y":0.853},
{"s":"4.00E-05 cm/s","t":4.1,"y":0.860},{"s":"4.00E-05 cm/s","t":4.2,"y":0.867},{"s":"4.00E-05 cm/s","t":4.3,"y":0.873},{"s":"4.00E-05 cm/s","t":4.4,"y":0.879},{"s":"4.00E-05 cm/s","t":4.5,"y":0.885},{"s":"4.00E-05 cm/s","t":4.6,"y":0.890},{"s":"4.00E-05 cm/s","t":4.7,"y":0.895},{"s":"4.00E-05 cm/s","t":4.8,"y":0.900},{"s":"4.00E-05 cm/s","t":4.9,"y":0.905},{"s":"4.00E-05 cm/s","t":5,"y":0.909},
{"s":"4.00E-05 cm/s","t":5.1,"y":0.914},{"s":"4.00E-05 cm/s","t":5.2,"y":0.918},{"s":"4.00E-05 cm/s","t":5.3,"y":0.921},{"s":"4.00E-05 cm/s","t":5.4,"y":0.925},{"s":"4.00E-05 cm/s","t":5.5,"y":0.929},{"s":"4.00E-05 cm/s","t":5.6,"y":0.932},{"s":"4.00E-05 cm/s","t":5.7,"y":0.935},{"s":"4.00E-05 cm/s","t":5.8,"y":0.938},{"s":"4.00E-05 cm/s","t":5.9,"y":0.941},{"s":"4.00E-05 cm/s","t":6,"y":0.944},
{"s":"8.00E-05 cm/s","t":0,"y":0},{"s":"8.00E-05 cm/s","t":0.1,"y":0.092},{"s":"8.00E-05 cm/s","t":0.2,"y":0.175},{"s":"8.00E-05 cm/s","t":0.3,"y":0.250},{"s":"8.00E-05 cm/s","t":0.4,"y":0.319},{"s":"8.00E-05 cm/s","t":0.5,"y":0.381},{"s":"8.00E-05 cm/s","t":0.6,"y":0.438},{"s":"8.00E-05 cm/s","t":0.7,"y":0.489},{"s":"8.00E-05 cm/s","t":0.8,"y":0.536},{"s":"8.00E-05 cm/s","t":0.9,"y":0.579},{"s":"8.00E-05 cm/s","t":1,"y":0.617},
{"s":"8.00E-05 cm/s","t":1.1,"y":0.652},{"s":"8.00E-05 cm/s","t":1.2,"y":0.684},{"s":"8.00E-05 cm/s","t":1.3,"y":0.713},{"s":"8.00E-05 cm/s","t":1.4,"y":0.739},{"s":"8.00E-05 cm/s","t":1.5,"y":0.763},{"s":"8.00E-05 cm/s","t":1.6,"y":0.785},{"s":"8.00E-05 cm/s","t":1.7,"y":0.804},{"s":"8.00E-05 cm/s","t":1.8,"y":0.822},{"s":"8.00E-05 cm/s","t":1.9,"y":0.839},{"s":"8.00E-05 cm/s","t":2,"y":0.853},
{"s":"8.00E-05 cm/s","t":2.1,"y":0.867},{"s":"8.00E-05 cm/s","t":2.2,"y":0.879},{"s":"8.00E-05 cm/s","t":2.3,"y":0.890},{"s":"8.00E-05 cm/s","t":2.4,"y":0.900},{"s":"8.00E-05 cm/s","t":2.5,"y":0.909},{"s":"8.00E-05 cm/s","t":2.6,"y":0.918},{"s":"8.00E-05 cm/s","t":2.7,"y":0.925},{"s":"8.00E-05 cm/s","t":2.8,"y":0.932},{"s":"8.00E-05 cm/s","t":2.9,"y":0.938},{"s":"8.00E-05 cm/s","t":3,"y":0.944},
{"s":"8.00E-05 cm/s","t":3.1,"y":0.949},{"s":"8.00E-05 cm/s","t":3.2,"y":0.954},{"s":"8.00E-05 cm/s","t":3.3,"y":0.958},{"s":"8.00E-05 cm/s","t":3.4,"y":0.962},{"s":"8.00E-05 cm/s","t":3.5,"y":0.965},{"s":"8.00E-05 cm/s","t":3.6,"y":0.968},{"s":"8.00E-05 cm/s","t":3.7,"y":0.971},{"s":"8.00E-05 cm/s","t":3.8,"y":0.974},{"s":"8.00E-05 cm/s","t":3.9,"y":0.976},{"s":"8.00E-05 cm/s","t":4,"y":0.979},
{"s":"8.00E-05 cm/s","t":4.1,"y":0.980},{"s":"8.00E-05 cm/s","t":4.2,"y":0.982},{"s":"8.00E-05 cm/s","t":4.3,"y":0.984},{"s":"8.00E-05 cm/s","t":4.4,"y":0.985},{"s":"8.00E-05 cm/s","t":4.5,"y":0.987},{"s":"8.00E-05 cm/s","t":4.6,"y":0.988},{"s":"8.00E-05 cm/s","t":4.7,"y":0.989},{"s":"8.00E-05 cm/s","t":4.8,"y":0.990},{"s":"8.00E-05 cm/s","t":4.9,"y":0.991},{"s":"8.00E-05 cm/s","t":5,"y":0.992},
{"s":"8.00E-05 cm/s","t":5.1,"y":0.993},{"s":"8.00E-05 cm/s","t":5.2,"y":0.993},{"s":"8.00E-05 cm/s","t":5.3,"y":0.994},{"s":"8.00E-05 cm/s","t":5.4,"y":0.994},{"s":"8.00E-05 cm/s","t":5.5,"y":0.995},{"s":"8.00E-05 cm/s","t":5.6,"y":0.995},{"s":"8.00E-05 cm/s","t":5.7,"y":0.996},{"s":"8.00E-05 cm/s","t":5.8,"y":0.996},{"s":"8.00E-05 cm/s","t":5.9,"y":0.997},{"s":"8.00E-05 cm/s","t":6,"y":0.997},
{"s":"1.00E-04 cm/s","t":0,"y":0},{"s":"1.00E-04 cm/s","t":0.1,"y":0.113},{"s":"1.00E-04 cm/s","t":0.2,"y":0.213},{"s":"1.00E-04 cm/s","t":0.3,"y":0.302},{"s":"1.00E-04 cm/s","t":0.4,"y":0.381},{"s":"1.00E-04 cm/s","t":0.5,"y":0.451},{"s":"1.00E-04 cm/s","t":0.6,"y":0.513},{"s":"1.00E-04 cm/s","t":0.7,"y":0.568},{"s":"1.00E-04 cm/s","t":0.8,"y":0.617},{"s":"1.00E-04 cm/s","t":0.9,"y":0.660},{"s":"1.00E-04 cm/s","t":1,"y":0.699},
{"s":"1.00E-04 cm/s","t":1.1,"y":0.733},{"s":"1.00E-04 cm/s","t":1.2,"y":0.763},{"s":"1.00E-04 cm/s","t":1.3,"y":0.790},{"s":"1.00E-04 cm/s","t":1.4,"y":0.814},{"s":"1.00E-04 cm/s","t":1.5,"y":0.835},{"s":"1.00E-04 cm/s","t":1.6,"y":0.853},{"s":"1.00E-04 cm/s","t":1.7,"y":0.870},{"s":"1.00E-04 cm/s","t":1.8,"y":0.885},{"s":"1.00E-04 cm/s","t":1.9,"y":0.898},{"s":"1.00E-04 cm/s","t":2,"y":0.909},
{"s":"1.00E-04 cm/s","t":2.1,"y":0.920},{"s":"1.00E-04 cm/s","t":2.2,"y":0.929},{"s":"1.00E-04 cm/s","t":2.3,"y":0.937},{"s":"1.00E-04 cm/s","t":2.4,"y":0.944},{"s":"1.00E-04 cm/s","t":2.5,"y":0.950},{"s":"1.00E-04 cm/s","t":2.6,"y":0.956},{"s":"1.00E-04 cm/s","t":2.7,"y":0.961},{"s":"1.00E-04 cm/s","t":2.8,"y":0.965},{"s":"1.00E-04 cm/s","t":2.9,"y":0.969},{"s":"1.00E-04 cm/s","t":3,"y":0.973},
{"s":"1.00E-04 cm/s","t":3.1,"y":0.976},{"s":"1.00E-04 cm/s","t":3.2,"y":0.979},{"s":"1.00E-04 cm/s","t":3.3,"y":0.981},{"s":"1.00E-04 cm/s","t":3.4,"y":0.983},{"s":"1.00E-04 cm/s","t":3.5,"y":0.985},{"s":"1.00E-04 cm/s","t":3.6,"y":0.987},{"s":"1.00E-04 cm/s","t":3.7,"y":0.988},{"s":"1.00E-04 cm/s","t":3.8,"y":0.990},{"s":"1.00E-04 cm/s","t":3.9,"y":0.991},{"s":"1.00E-04 cm/s","t":4,"y":0.992},
{"s":"1.00E-04 cm/s","t":4.1,"y":0.993},{"s":"1.00E-04 cm/s","t":4.2,"y":0.994},{"s":"1.00E-04 cm/s","t":4.3,"y":0.994},{"s":"1.00E-04 cm/s","t":4.4,"y":0.995},{"s":"1.00E-04 cm/s","t":4.5,"y":0.995},{"s":"1.00E-04 cm/s","t":4.6,"y":0.996},{"s":"1.00E-04 cm/s","t":4.7,"y":0.996},{"s":"1.00E-04 cm/s","t":4.8,"y":0.997},{"s":"1.00E-04 cm/s","t":4.9,"y":0.997},{"s":"1.00E-04 cm/s","t":5,"y":0.998},
{"s":"1.00E-04 cm/s","t":5.1,"y":0.998},{"s":"1.00E-04 cm/s","t":5.2,"y":0.998},{"s":"1.00E-04 cm/s","t":5.3,"y":0.998},{"s":"1.00E-04 cm/s","t":5.4,"y":0.998},{"s":"1.00E-04 cm/s","t":5.5,"y":0.999},{"s":"1.00E-04 cm/s","t":5.6,"y":0.999},{"s":"1.00E-04 cm/s","t":5.7,"y":0.999},{"s":"1.00E-04 cm/s","t":5.8,"y":0.999},{"s":"1.00E-04 cm/s","t":5.9,"y":0.999},{"s":"1.00E-04 cm/s","t":6,"y":0.999}
]
},
"spacing": 177,
"bounds": "flush",
"resolve": {"scale": {"x": "independent", "y": "independent", "fill": "independent", "stroke": "independent", "shape": "independent"}, "legend": {"fill": "independent", "stroke": "independent", "shape": "independent"}},
"vconcat": [
{
 "width": 520, "height": 326,
 "layer": [
  {"data": {"values": [{}]}, "mark": {"type": "rect", "filled": false, "stroke": "#a6a6a6", "strokeWidth": 1.5}, "encoding": {"x": {"datum": -1.66}, "x2": {"datum": 9.785}, "y": {"datum": 1.224}, "y2": {"datum": -0.307}}},
  {"data": {"values": [{}]}, "mark": {"type": "text", "text": "A", "font": "Liberation Serif", "fontSize": 35, "align": "center", "baseline": "alphabetic", "color": "#000000"}, "encoding": {"x": {"datum": 9.292}, "y": {"datum": 1.077}}},
  {"data": {"values": [{}]}, "mark": {"type": "text", "text": "Area (cm²) changed", "font": "Liberation Sans", "fontSize": 25, "fontWeight": "bold", "align": "center", "baseline": "alphabetic", "color": "#000000"}, "encoding": {"x": {"datum": 4.108}, "y": {"datum": 1.092}}},
  {"data": {"name": "A"}, "mark": {"type": "point", "filled": true, "opacity": 1, "size": 90, "strokeWidth": 1},
   "encoding": {
    "x": {"field": "t", "type": "quantitative", "scale": {"domain": [0, 8], "nice": false}, "axis": {"values": [0, 2, 4, 6, 8], "format": ".1f", "title": "Time (hr)", "labelPadding": 19, "titlePadding": 22}},
    "y": {"field": "y", "type": "quantitative", "scale": {"domain": [0, 1], "nice": false}, "axis": {"values": [0, 0.2, 0.4, 0.6, 0.8, 1], "format": ".2f", "title": "Mt/Minf", "labelPadding": 14, "titlePadding": 14}},
    "fill": {"field": "s", "type": "nominal", "scale": {"domain": ["0.1 cm²","0.2 cm²","0.4 cm²","exp","0.8 cm²","1.0 cm²","2.0 cm²","5.0 cm²","10.0 cm²"], "range": ["#4F81BD","#C0504D","#9BBB59","#8064A2","#4BACC6","#F79646","#7F96C8","#D48C8A","#A9C47F"]}, "legend": {"title": null, "orient": "none", "legendX": 556, "legendY": 69}},
    "stroke": {"field": "s", "type": "nominal", "scale": {"domain": ["0.1 cm²","0.2 cm²","0.4 cm²","exp","0.8 cm²","1.0 cm²","2.0 cm²","5.0 cm²","10.0 cm²"], "range": ["#4F81BD","#C0504D","#9BBB59","#8064A2","#4BACC6","#F79646","#7F96C8","#D48C8A","#A9C47F"]}, "legend": {"title": null, "orient": "none", "legendX": 556, "legendY": 69}},
    "shape": {"field": "s", "type": "nominal", "scale": {"domain": ["0.1 cm²","0.2 cm²","0.4 cm²","exp","0.8 cm²","1.0 cm²","2.0 cm²","5.0 cm²","10.0 cm²"], "range": ["M0,-1.05L0.9,0L0,1.05L-0.9,0Z","M-0.8,-0.8L0.8,-0.8L0.8,0.8L-0.8,0.8Z","M0,-1L1,0.8L-1,0.8Z","M-0.9,-0.9L0.9,0.9M-0.9,0.9L0.9,-0.9","M-0.9,-0.9L0.9,0.9M-0.9,0.9L0.9,-0.9M0,-1.15L0,1.15","circle","M-1.15,0L1.15,0M0,-1.15L0,1.15","M-0.75,-0.25L0.75,-0.25L0.75,0.25L-0.75,0.25Z","M-1.3,-0.25L1.3,-0.25L1.3,0.25L-1.3,0.25Z"]}, "legend": {"title": null, "orient": "none", "legendX": 556, "legendY": 69}}
   }
  }
 ]
},
{
 "width": 512, "height": 327,
 "layer": [
  {"data": {"values": [{}]}, "mark": {"type": "rect", "filled": false, "stroke": "#a6a6a6", "strokeWidth": 1.5}, "encoding": {"x": {"datum": -1.6875}, "x2": {"datum": 9.9375}, "y": {"datum": 1.2232}, "y2": {"datum": -0.3058}}},
  {"data": {"values": [{}]}, "mark": {"type": "text", "text": "B", "font": "Liberation Serif", "fontSize": 35, "align": "center", "baseline": "alphabetic", "color": "#000000"}, "encoding": {"x": {"datum": 9.4375}, "y": {"datum": 1.0765}}},
  {"data": {"values": [{}]}, "mark": {"type": "text", "text": "Length (cm) changed", "font": "Liberation Sans", "fontSize": 25, "fontWeight": "bold", "align": "center", "baseline": "alphabetic", "color": "#000000"}, "encoding": {"x": {"datum": 4.33}, "y": {"datum": 1.0917}}},
  {"data": {"name": "B"}, "mark": {"type": "point", "filled": true, "opacity": 1, "size": 90, "strokeWidth": 1},
   "encoding": {
    "x": {"field": "t", "type": "quantitative", "scale": {"domain": [0, 8], "nice": false}, "axis": {"values": [0, 2, 4, 6, 8], "format": ".1f", "title": "Time (hr)", "labelPadding": 19, "titlePadding": 22}},
    "y": {"field": "y", "type": "quantitative", "scale": {"domain": [0, 1], "nice": false}, "axis": {"values": [0, 0.1, 0.2, 0.3, 0.4, 0.5, 0.6, 0.7, 0.8, 0.9, 1], "format": ".2f", "title": "Mt/Minf", "labelPadding": 14, "titlePadding": 14}},
    "fill": {"field": "s", "type": "nominal", "scale": {"domain": ["0.05 cm","0.10 cm","0.20 cm","exp","0.60 cm","1.00 cm","1.50 cm","2.00 cm"], "range": ["#4F81BD","#C0504D","#9BBB59","#8064A2","#4BACC6","#F79646","#7F96C8","#D48C8A"]}, "legend": {"title": null, "orient": "none", "legendX": 554, "legendY": 76}},
    "stroke": {"field": "s", "type": "nominal", "scale": {"domain": ["0.05 cm","0.10 cm","0.20 cm","exp","0.60 cm","1.00 cm","1.50 cm","2.00 cm"], "range": ["#4F81BD","#C0504D","#9BBB59","#8064A2","#4BACC6","#F79646","#7F96C8","#D48C8A"]}, "legend": {"title": null, "orient": "none", "legendX": 554, "legendY": 76}},
    "shape": {"field": "s", "type": "nominal", "scale": {"domain": ["0.05 cm","0.10 cm","0.20 cm","exp","0.60 cm","1.00 cm","1.50 cm","2.00 cm"], "range": ["M0,-1.05L0.9,0L0,1.05L-0.9,0Z","M-0.8,-0.8L0.8,-0.8L0.8,0.8L-0.8,0.8Z","M0,-1L1,0.8L-1,0.8Z","M-0.9,-0.9L0.9,0.9M-0.9,0.9L0.9,-0.9","M-0.9,-0.9L0.9,0.9M-0.9,0.9L0.9,-0.9M0,-1.15L0,1.15","circle","M-1.15,0L1.15,0M0,-1.15L0,1.15","M-0.75,-0.25L0.75,-0.25L0.75,0.25L-0.75,0.25Z"]}, "legend": {"title": null, "orient": "none", "legendX": 554, "legendY": 76}}
   }
  }
 ]
},
{
 "width": 520, "height": 325,
 "layer": [
  {"data": {"values": [{}]}, "mark": {"type": "rect", "filled": false, "stroke": "#a6a6a6", "strokeWidth": 1.5}, "encoding": {"x": {"datum": -1.66}, "x2": {"datum": 9.785}, "y": {"datum": 1.2246}, "y2": {"datum": -0.31}}},
  {"data": {"values": [{}]}, "mark": {"type": "text", "text": "C", "font": "Liberation Serif", "fontSize": 35, "align": "center", "baseline": "alphabetic", "color": "#000000"}, "encoding": {"x": {"datum": 9.292}, "y": {"datum": 1.0769}}},
  {"data": {"values": [{}]}, "mark": {"type": "text", "text": "Pₐₚₚ (cm/s) changed", "font": "Liberation Sans", "fontSize": 25, "fontWeight": "bold", "align": "center", "baseline": "alphabetic", "color": "#000000"}, "encoding": {"x": {"datum": 4.06}, "y": {"datum": 1.0923}}},
  {"data": {"name": "C"}, "mark": {"type": "point", "filled": true, "opacity": 1, "size": 90, "strokeWidth": 1},
   "encoding": {
    "x": {"field": "t", "type": "quantitative", "scale": {"domain": [0, 8], "nice": false}, "axis": {"values": [0, 2, 4, 6, 8], "format": ".1f", "title": "Time (hr)", "labelPadding": 19, "titlePadding": 22}},
    "y": {"field": "y", "type": "quantitative", "scale": {"domain": [0, 1], "nice": false}, "axis": {"values": [0, 0.2, 0.4, 0.6, 0.8, 1], "format": ".2f", "title": "Mt/Minf", "labelPadding": 14, "titlePadding": 14}},
    "fill": {"field": "s", "type": "nominal", "scale": {"domain": ["1.00E-06 cm/s","5.00E-06 cm/s","1.00E-05 cm/s","1.50E-05 cm/s","exp","4.00E-05 cm/s","8.00E-05 cm/s","1.00E-04 cm/s"], "range": ["#4F81BD","#C0504D","#9BBB59","#8064A2","#4BACC6","#F79646","#7F96C8","#D48C8A"]}, "legend": {"title": null, "orient": "none", "legendX": 494, "legendY": 38}},
    "stroke": {"field": "s", "type": "nominal", "scale": {"domain": ["1.00E-06 cm/s","5.00E-06 cm/s","1.00E-05 cm/s","1.50E-05 cm/s","exp","4.00E-05 cm/s","8.00E-05 cm/s","1.00E-04 cm/s"], "range": ["#4F81BD","#C0504D","#9BBB59","#8064A2","#4BACC6","#F79646","#7F96C8","#D48C8A"]}, "legend": {"title": null, "orient": "none", "legendX": 494, "legendY": 38}},
    "shape": {"field": "s", "type": "nominal", "scale": {"domain": ["1.00E-06 cm/s","5.00E-06 cm/s","1.00E-05 cm/s","1.50E-05 cm/s","exp","4.00E-05 cm/s","8.00E-05 cm/s","1.00E-04 cm/s"], "range": ["M0,-1.05L0.9,0L0,1.05L-0.9,0Z","M-0.8,-0.8L0.8,-0.8L0.8,0.8L-0.8,0.8Z","M0,-1L1,0.8L-1,0.8Z","M-0.9,-0.9L0.9,0.9M-0.9,0.9L0.9,-0.9","M-0.9,-0.9L0.9,0.9M-0.9,0.9L0.9,-0.9M0,-1.15L0,1.15","circle","M-1.15,0L1.15,0M0,-1.15L0,1.15","M-0.75,-0.25L0.75,-0.25L0.75,0.25L-0.75,0.25Z"]}, "legend": {"title": null, "orient": "none", "legendX": 494, "legendY": 38}}
   }
  }
 ]
}
]
}
